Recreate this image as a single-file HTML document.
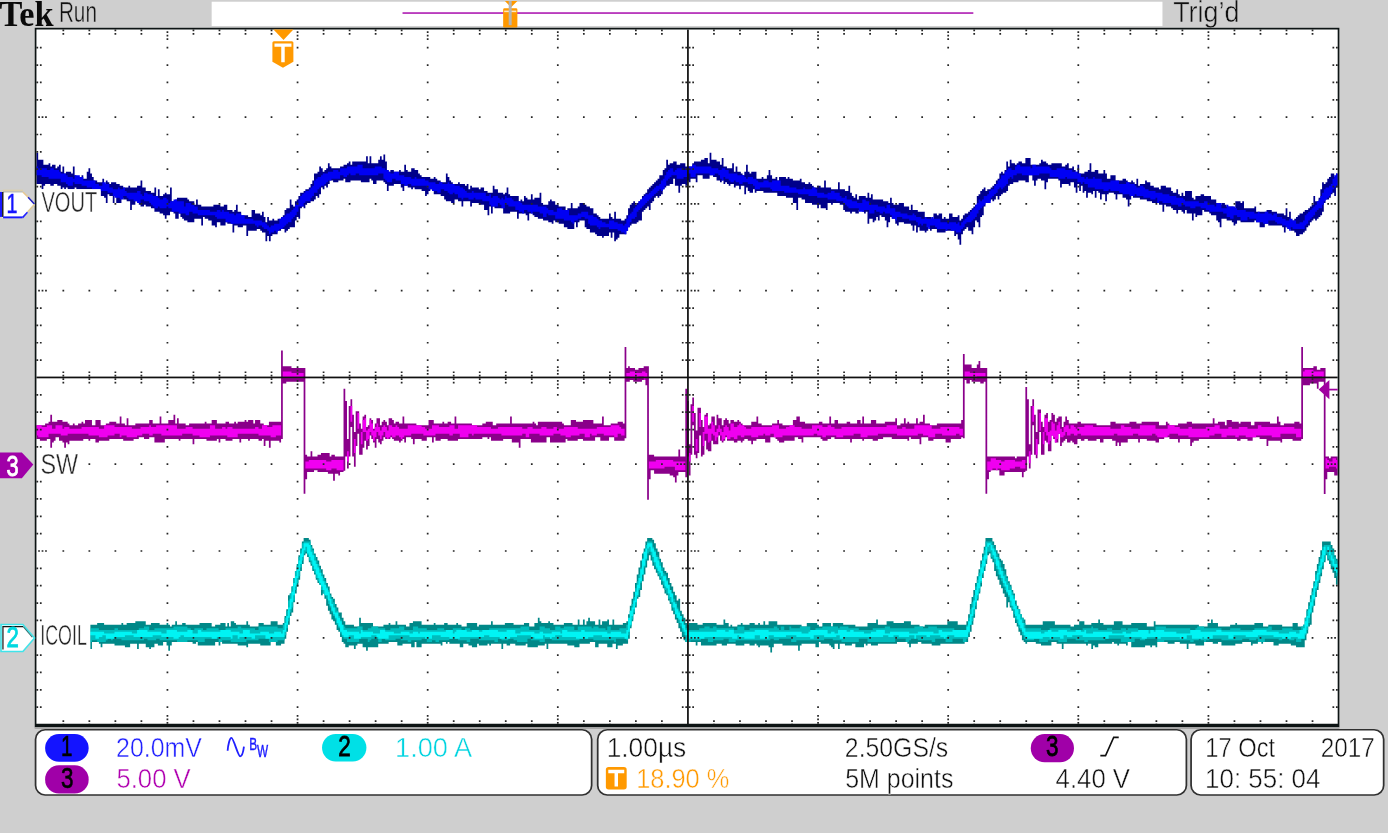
<!DOCTYPE html>
<html><head><meta charset="utf-8"><title>Tek scope capture</title><style>html,body{margin:0;padding:0;background:#cfcfcf;overflow:hidden;width:1388px;height:833px}svg{display:block}</style></head><body>
<svg width="1388" height="833" viewBox="0 0 800 480" preserveAspectRatio="none" font-family="'Liberation Sans', Arial, sans-serif">
<rect x="0" y="0" width="800" height="480" fill="#cfcfcf"/>
<rect x="122" y="1" width="548" height="14" fill="#ffffff"/>
<rect x="232" y="7" width="329" height="1.05" fill="#b838bc"/>
<path d="M291 0.6H298.2L294.6 4.2Z" fill="#ff9900"/>
<rect x="290" y="4.8" width="8.2" height="11.2" rx="0.8" fill="#ff9900"/>
<rect x="290.6" y="6.1" width="7" height="0.9" fill="#ffe8c0"/>
<rect x="293.2" y="0.6" width="1.7" height="13.9" fill="#b4b4b4"/>
<text x="-0.31" y="14.75" font-family="'Liberation Serif', 'Times New Roman', serif" font-weight="bold" font-size="20.9" textLength="31.14" lengthAdjust="spacingAndGlyphs" fill="#0a0a0a">Tek</text>
<text x="33.94" y="12.9" font-size="16.7" textLength="21.95" lengthAdjust="spacingAndGlyphs" fill="#101010" stroke="#cfcfcf" stroke-width="0.28">Run</text>
<text x="676.18" y="12.9" font-size="16.7" textLength="38.23" lengthAdjust="spacingAndGlyphs" fill="#101010" stroke="#cfcfcf" stroke-width="0.28">Trig’d</text>
<rect x="20" y="16" width="752" height="403" fill="#ffffff"/>
<path fill="#8a008a" d="M21 245H22V245H23V245H24V245H25V245H26V244H27V244H28V243H29V239H30V243H31V243H32V243H33V242H34V242H35V242H36V243H37V243H38V243H39V244H40V245H41V245H42V244H43V245H44V245H45V244H46V244H47V243H48V244H49V242H50V242H51V242H52V242H53V245H54V245H55V242H56V242H57V242H58V245H59V245H60V245H61V244H62V244H63V243H64V243H65V243H66V243H67V244H68V244H69V240H70V244H71V244H72V245H73V241H74V245H75V245H76V245H77V245H78V244H79V244H80V244H81V244H82V244H83V244H84V244H85V244H86V242H87V242H88V244H89V244H90V244H91V244H92V240H93V244H94V244H95V244H96V244H97V242H98V242H99V242H100V239H101V244H102V241H103V244H104V244H105V244H106V244H107V245H108V245H109V244H110V244H111V244H112V244H113V244H114V244H115V244H116V244H117V244H118V243H119V244H120V244H121V244H122V242H123V242H124V242H125V244H126V244H127V244H128V244H129V244H130V243H131V243H132V244H133V244H134V244H135V243H136V244H137V243H138V243H139V243H140V243H141V242H142V243H143V242H144V242H145V242H146V244H147V242H148V242H149V242H150V244H151V244H152V245H153V245H154V245H155V243H156V243H157V243H158V243H159V243H160V243H161V243H162V202H163V211H164V211H165V211H166V211H167V211H168V212H169V212H170V212H171V212H172V212H173V212H174V212H175V212H176V262H177V263H178V263H179V260H180V263H181V263H182V263H183V262H184V262H185V261H186V261H187V261H188V261H189V261H190V263H191V262H192V262H193V263H194V263H195V263H196V263H197V263H198V224H199V231H200V253H201V234H202V230H203V239H204V249H205V237H206V237H207V244H208V247H209V240H210V239H211V246H212V245H213V241H214V242H215V247H216V244H217V241H218V241H219V245H220V243H221V242H222V243H223V245H224V241H225V241H226V242H227V244H228V243H229V243H230V244H231V244H232V240H233V244H234V244H235V244H236V244H237V244H238V244H239V244H240V245H241V245H242V245H243V245H244V245H245V245H246V245H247V242H248V242H249V242H250V244H251V244H252V244H253V244H254V244H255V243H256V244H257V244H258V243H259V243H260V244H261V244H262V240H263V244H264V244H265V244H266V244H267V244H268V244H269V244H270V244H271V244H272V245H273V245H274V245H275V245H276V245H277V245H278V244H279V244H280V243H281V243H282V243H283V243H284V245H285V245H286V244H287V244H288V244H289V244H290V244H291V244H292V244H293V244H294V240H295V244H296V244H297V244H298V244H299V244H300V244H301V244H302V244H303V244H304V244H305V244H306V244H307V243H308V244H309V245H310V243H311V243H312V243H313V243H314V243H315V243H316V243H317V243H318V243H319V243H320V243H321V243H322V243H323V243H324V244H325V245H326V245H327V245H328V245H329V242H330V242H331V242H332V243H333V243H334V243H335V243H336V242H337V242H338V242H339V242H340V242H341V242H342V244H343V244H344V244H345V244H346V244H347V240H348V245H349V245H350V245H351V245H352V244H353V244H354V244H355V244H356V243H357V243H358V243H359V244H360V200H361V212H362V211H363V212H364V212H365V212H366V213H367V213H368V212H369V212H370V212H371V211H372V211H373V211H374V262H375V262H376V262H377V263H378V263H379V263H380V263H381V263H382V263H383V263H384V263H385V263H386V263H387V263H388V263H389V263H390V263H391V259H392V263H393V263H394V263H395V224H396V231H397V256H398V233H399V229H400V238H401V248H402V235H403V235H404V242H405V246H406V239H407V238H408V245H409V244H410V240H411V240H412V245H413V239H414V241H415V241H416V245H417V242H418V241H419V242H420V244H421V242H422V242H423V243H424V243H425V242H426V243H427V244H428V245H429V245H430V245H431V245H432V245H433V243H434V243H435V243H436V240H437V244H438V244H439V245H440V245H441V245H442V245H443V245H444V245H445V244H446V244H447V244H448V242H449V244H450V244H451V245H452V245H453V245H454V245H455V245H456V245H457V242H458V242H459V240H460V240H461V243H462V243H463V243H464V244H465V244H466V244H467V244H468V244H469V244H470V244H471V244H472V243H473V243H474V244H475V244H476V244H477V244H478V240H479V244H480V244H481V242H482V242H483V244H484V244H485V244H486V244H487V244H488V243H489V243H490V244H491V244H492V244H493V244H494V242H495V242H496V244H497V240H498V244H499V244H500V244H501V244H502V242H503V242H504V242H505V244H506V244H507V244H508V244H509V244H510V243H511V243H512V243H513V243H514V243H515V243H516V241H517V245H518V245H519V244H520V244H521V241H522V244H523V243H524V244H525V244H526V244H527V244H528V241H529V244H530V243H531V243H532V239H533V244H534V244H535V244H536V245H537V245H538V245H539V245H540V244H541V244H542V244H543V244H544V244H545V244H546V244H547V244H548V244H549V244H550V244H551V244H552V244H553V244H554V242H555V204H556V210H557V210H558V210H559V210H560V212H561V212H562V212H563V210H564V208H565V212H566V212H567V212H568V212H569V263H570V263H571V263H572V263H573V263H574V263H575V263H576V263H577V263H578V263H579V263H580V263H581V263H582V263H583V263H584V263H585V264H586V263H587V263H588V263H589V263H590V263H591V223H592V230H593V256H594V234H595V230H596V239H597V249H598V236H599V236H600V243H601V246H602V239H603V238H604V243H605V242H606V238H607V239H608V243H609V241H610V240H611V240H612V246H613V243H614V240H615V242H616V244H617V244H618V244H619V244H620V244H621V243H622V243H623V244H624V244H625V244H626V244H627V244H628V244H629V244H630V244H631V244H632V245H633V245H634V245H635V245H636V245H637V245H638V245H639V245H640V243H641V243H642V243H643V244H644V244H645V244H646V244H647V244H648V244H649V244H650V244H651V243H652V243H653V243H654V243H655V244H656V244H657V244H658V243H659V243H660V243H661V243H662V243H663V243H664V243H665V243H666V243H667V243H668V245H669V245H670V245H671V245H672V243H673V244H674V245H675V245H676V245H677V245H678V245H679V244H680V244H681V244H682V244H683V244H684V243H685V243H686V243H687V244H688V244H689V244H690V244H691V244H692V244H693V244H694V244H695V244H696V244H697V244H698V244H699V241H700V244H701V244H702V243H703V243H704V243H705V243H706V245H707V242H708V242H709V242H710V243H711V243H712V243H713V243H714V244H715V243H716V243H717V243H718V243H719V243H720V243H721V245H722V245H723V243H724V243H725V243H726V243H727V243H728V243H729V243H730V243H731V243H732V244H733V244H734V244H735V244H736V240H737V243H738V245H739V245H740V244H741V244H742V244H743V244H744V244H745V244H746V243H747V243H748V243H749V244H750V200H751V212H752V212H753V212H754V212H755V212H756V212H757V211H758V211H759V213H760V213H761V212H762V212H763V212H764V263H765V263H766V264H767V263H768V263H769V263H770V263H771V274H770V274H769V272H768V272H767V272H766V272H765V276.2H764V284.7H763V220H762V220H761V220H760V224H759V221H758V221H757V221H756V221H755V222H754V222H753V222H752V222H751V253H750V254H749V254H748V254H747V254H746V254H745V253H744V253H743V253H742V253H741V253H740V253H739V255H738V254H737V254H736V254H735V254H734V254H733V254H732V254H731V257H730V253H729V253H728V253H727V253H726V252H725V252H724V252H723V252H722V254H721V254H720V254H719V253H718V253H717V253H716V253H715V254H714V254H713V253H712V253H711V253H710V253H709V253H708V253H707V253H706V253H705V253H704V253H703V253H702V253H701V253H700V253H699V253H698V253H697V253H696V253H695V253H694V253H693V253H692V253H691V254H690V254H689V254H688V255H687V257H686V253H685V253H684V253H683V253H682V253H681V253H680V255H679V253H678V253H677V253H676V253H675V253H674V252H673V252H672V252H671V253H670V253H669V253H668V255H667V255H666V254H665V254H664V254H663V254H662V254H661V253H660V253H659V253H658V253H657V255H656V253H655V253H654V253H653V253H652V253H651V253H650V255H649V255H648V255H647V255H646V257H645V255H644V257H643V254H642V254H641V253H640V253H639V253H638V253H637V253H636V255H635V255H634V253H633V253H632V254H631V254H630V254H629V254H628V254H627V253H626V253H625V254H624V254H623V253H622V253H621V256H620V256H619V255H618V254H617V255H616V255H615V253H614V254H613V255H612V257H611V250H610V255H609V255H608V253H607V251H606V260H605V260H604V255H603V254H602V262H601V262H600V249H599V256H598V264H597V262H596V245H595V262H594V270H593V263H592V271.2H591V272H590V275H589V272H588V272H587V272H586V272H585V272H584V272H583V272H582V272H581V272H580V272H579V274H578V274H577V274H576V271H575V271H574V271H573V271H572V271H571V272H570V276.2H569V284.5H568V220H567V221H566V221H565V220H564V220H563V220H562V220H561V220H560V219H559V221H558V221H557V219H556V252.6H555V252H554V253H553V253H552V253H551V253H550V253H549V253H548V255H547V255H546V255H545V253H544V253H543V253H542V253H541V253H540V253H539V253H538V254H537V254H536V254H535V252H534V252H533V252H532V252H531V256H530V253H529V253H528V253H527V253H526V253H525V252H524V254H523V253H522V253H521V253H520V253H519V253H518V253H517V253H516V253H515V253H514V252H513V252H512V252H511V252H510V252H509V253H508V253H507V253H506V254H505V254H504V254H503V253H502V253H501V253H500V253H499V253H498V254H497V253H496V253H495V253H494V253H493V253H492V253H491V255H490V253H489V253H488V253H487V253H486V253H485V253H484V253H483V253H482V253H481V252H480V252H479V253H478V253H477V254H476V254H475V254H474V253H473V252H472V252H471V252H470V252H469V252H468V252H467V252H466V252H465V252H464V252H463V255H462V253H461V253H460V252H459V252H458V254H457V254H456V254H455V254H454V254H453V254H452V255H451V255H450V255H449V254H448V253H447V252H446V252H445V252H444V255H443V255H442V255H441V253H440V253H439V253H438V253H437V253H436V254H435V254H434V256H433V254H432V254H431V253H430V253H429V254H428V255H427V254H426V254H425V255H424V255H423V254H422V254H421V254H420V254H419V252H418V254H417V255H416V254H415V251H414V256H413V256H412V256H411V254H410V260H409V260H408V259H407V254H406V262H405V263H404V251H403V261H402V264H401V262H400V245H399V262H398V274H397V263H396V275H395V272H394V272H393V272H392V272H391V274H390V278H389V275H388V274H387V274H386V273H385V273H384V273H383V273H382V273H381V273H380V273H379V273H378V273H377V271H376V271H375V276.2H374V288H373V222H372V219H371V219H370V220H369V220H368V220H367V220H366V220H365V219H364V219H363V220H362V220H361V252.6H360V254H359V254H358V254H357V254H356V254H355V254H354V252H353V252H352V252H351V254H350V254H349V254H348V254H347V254H346V252H345V252H344V252H343V254H342V254H341V254H340V254H339V254H338V254H337V254H336V253H335V253H334V253H333V254H332V254H331V254H330V254H329V254H328V254H327V253H326V255H325V255H324V255H323V255H322V255H321V255H320V255H319V255H318V255H317V252H316V252H315V255H314V255H313V255H312V255H311V255H310V255H309V255H308V255H307V255H306V253H305V253H304V253H303V253H302V253H301V253H300V258H299V255H298V255H297V255H296V255H295V253H294V253H293V253H292V253H291V253H290V254H289V254H288V254H287V254H286V254H285V254H284V254H283V252H282V253H281V252H280V252H279V252H278V253H277V253H276V253H275V253H274V253H273V253H272V253H271V253H270V253H269V253H268V253H267V253H266V253H265V253H264V254H263V254H262V254H261V254H260V254H259V254H258V253H257V253H256V253H255V253H254V254H253V254H252V254H251V252H250V255H249V252H248V252H247V252H246V254H245V254H244V254H243V253H242V253H241V253H240V253H239V256H238V253H237V252H236V252H235V252H234V255H233V253H232V254H231V255H230V254H229V254H228V254H227V253H226V252H225V253H224V253H223V253H222V252H221V254H220V256H219V255H218V253H217V258H216V255H215V253H214V251H213V257H212V259H211V254H210V258H209V262H208V262H207V250H206V257H205V269H204V263H203V246H202V263H201V270H200V263H199V271.2H198V272H197V272H196V274H195V273H194V273H193V277H192V273H191V273H190V273H189V272H188V272H187V272H186V272H185V272H184V272H183V271H182V271H181V272H180V272H179V272H178V272H177V276.2H176V284.5H175V220H174V220H173V220H172V220H171V220H170V220H169V220H168V220H167V220H166V220H165V221H164V221H163V253H162V255H161V254H160V254H159V254H158V254H157V254H156V258H155V254H154V254H153V257H152V253H151V254H150V254H149V253H148V253H147V253H146V253H145V253H144V254H143V253H142V253H141V253H140V253H139V255H138V253H137V253H136V253H135V253H134V254H133V254H132V254H131V254H130V253H129V253H128V253H127V255H126V253H125V254H124V254H123V254H122V254H121V254H120V254H119V253H118V253H117V253H116V253H115V253H114V253H113V253H112V256H111V253H110V253H109V253H108V253H107V253H106V253H105V253H104V254H103V253H102V253H101V253H100V253H99V253H98V253H97V253H96V253H95V255H94V255H93V255H92V255H91V255H90V255H89V252H88V252H87V252H86V253H85V253H84V253H83V252H82V252H81V252H80V253H79V253H78V253H77V254H76V254H75V254H74V254H73V254H72V254H71V253H70V253H69V253H68V253H67V253H66V253H65V253H64V253H63V254H62V254H61V254H60V254H59V254H58V254H57V255H56V255H55V253H54V253H53V253H52V254H51V253H50V253H49V253H48V254H47V254H46V254H45V254H44V254H43V254H42V254H41V254H40V256H39V255H38V258H37V255H36V254H35V254H34V252H33V252H32V254H31V255H30V258H29V253H28V253H27V254H26V254H25V254H24V254H23V253H22V253H21z"/>
<path fill="#f000f0" d="M21 245H22V245H23V245H24V246H25V246H26V246H27V245H28V245H29V245H30V247H31V247H32V245H33V245H34V245H35V245H36V247H37V246H38V246H39V246H40V247H41V247H42V247H43V247H44V247H45V247H46V247H47V246H48V246H49V246H50V246H51V246H52V246H53V246H54V246H55V246H56V246H57V247H58V247H59V247H60V245H61V245H62V245H63V245H64V245H65V245H66V246H67V246H68V246H69V246H70V246H71V246H72V246H73V246H74V246H75V246H76V247H77V247H78V247H79V247H80V247H81V246H82V246H83V246H84V246H85V246H86V245H87V246H88V246H89V246H90V245H91V245H92V245H93V245H94V245H95V245H96V245H97V245H98V245H99V245H100V245H101V245H102V247H103V247H104V247H105V247H106V247H107V246H108V246H109V246H110V246H111V247H112V247H113V247H114V247H115V247H116V247H117V247H118V247H119V247H120V247H121V245H122V245H123V245H124V247H125V247H126V247H127V247H128V246H129V246H130V247H131V246H132V246H133V246H134V247H135V247H136V247H137V247H138V247H139V247H140V247H141V247H142V247H143V247H144V247H145V247H146V247H147V246H148V246H149V247H150V247H151V245H152V245H153V245H154V246H155V246H156V246H157V245H158V245H159V245H160V245H161V245H162V251H161V251H160V251H159V252H158V252H157V252H156V251H155V251H154V251H153V251H152V251H151V251H150V251H149V250H148V250H147V250H146V250H145V250H144V250H143V250H142V250H141V250H140V250H139V250H138V250H137V252H136V252H135V252H134V252H133V252H132V252H131V251H130V251H129V251H128V251H127V251H126V251H125V251H124V251H123V251H122V251H121V252H120V252H119V252H118V252H117V252H116V252H115V251H114V251H113V251H112V251H111V250H110V250H109V250H108V250H107V250H106V250H105V251H104V251H103V251H102V251H101V251H100V251H99V251H98V251H97V251H96V251H95V251H94V251H93V250H92V250H91V250H90V250H89V250H88V251H87V251H86V250H85V250H84V250H83V250H82V251H81V251H80V251H79V252H78V252H77V252H76V252H75V252H74V252H73V251H72V251H71V251H70V252H69V250H68V250H67V250H66V251H65V251H64V251H63V251H62V252H61V252H60V252H59V252H58V252H57V251H56V251H55V251H54V251H53V251H52V251H51V250H50V250H49V250H48V250H47V250H46V250H45V250H44V250H43V250H42V250H41V250H40V250H39V251H38V251H37V251H36V251H35V250H34V250H33V250H32V250H31V250H30V250H29V250H28V252H27V252H26V252H25V252H24V252H23V252H22V251H21zM163 214H164V214H165V214H166V214H167V214H168V215H169V215H170V215H171V215H172V215H173V215H174V215H175V218H174V218H173V218H172V218H171V218H170V218H169V218H168V218H167V218H166V218H165V218H164V218H163zM176 266H177V266H178V265H179V265H180V265H181V265H182V265H183V265H184V265H185V265H186V265H187V265H188V266H189V266H190V266H191V265H192V265H193V265H194V265H195V265H196V265H197V265H198V271H197V271H196V271H195V271H194V270H193V270H192V270H191V271H190V271H189V271H188V270H187V270H186V270H185V270H184V270H183V270H182V270H181V270H180V270H179V270H178V270H177V270H176zM200 260H201V266H200zM202 234H203V243H202zM204 253H205V261H204zM206 238H207V247H206zM208 249H209V242H210V241H211V248H212V247H213V242H214V244H215V248H216V246H217V244H218V246H219V248H220V246H221V245H222V246H223V248H224V245H225V245H226V246H227V246H228V245H229V246H230V247H231V247H232V247H233V247H234V247H235V245H236V245H237V245H238V245H239V245H240V245H241V245H242V245H243V246H244V246H245V247H246V247H247V247H248V247H249V245H250V245H251V245H252V245H253V246H254V246H255V246H256V246H257V246H258V246H259V245H260V245H261V245H262V247H263V247H264V245H265V245H266V245H267V245H268V245H269V245H270V245H271V245H272V245H273V245H274V245H275V246H276V246H277V246H278V246H279V246H280V246H281V246H282V246H283V247H284V247H285V247H286V247H287V246H288V246H289V246H290V246H291V246H292V246H293V246H294V246H295V246H296V246H297V246H298V246H299V246H300V246H301V247H302V247H303V247H304V246H305V246H306V246H307V247H308V247H309V247H310V247H311V247H312V246H313V246H314V246H315V247H316V247H317V247H318V247H319V246H320V246H321V247H322V247H323V247H324V247H325V246H326V246H327V246H328V246H329V246H330V246H331V246H332V246H333V247H334V247H335V247H336V247H337V247H338V247H339V247H340V247H341V247H342V247H343V247H344V246H345V246H346V246H347V246H348V246H349V246H350V246H351V246H352V245H353V245H354V245H355V245H356V245H357V246H358V247H359V247H360V251H359V251H358V250H357V250H356V252H355V252H354V251H353V251H352V251H351V251H350V251H349V251H348V250H347V250H346V250H345V250H344V251H343V251H342V251H341V250H340V252H339V252H338V252H337V250H336V250H335V250H334V251H333V251H332V251H331V251H330V251H329V252H328V252H327V252H326V251H325V251H324V251H323V250H322V250H321V250H320V250H319V251H318V251H317V251H316V251H315V251H314V251H313V251H312V251H311V250H310V250H309V250H308V250H307V250H306V250H305V252H304V252H303V250H302V250H301V251H300V251H299V251H298V251H297V251H296V251H295V251H294V251H293V251H292V251H291V251H290V251H289V250H288V250H287V250H286V250H285V250H284V250H283V250H282V250H281V250H280V250H279V250H278V250H277V250H276V250H275V250H274V250H273V251H272V250H271V250H270V252H269V252H268V252H267V252H266V252H265V250H264V250H263V250H262V250H261V251H260V251H259V250H258V250H257V250H256V250H255V250H254V250H253V250H252V250H251V251H250V251H249V251H248V251H247V251H246V251H245V251H244V250H243V250H242V250H241V250H240V250H239V250H238V250H237V251H236V251H235V251H234V251H233V252H232V253H231V252H230V251H229V251H228V252H227V252H226V251H225V252H224V253H223V252H222V249H221V251H220V253H219V251H218V249H217V252H216V254H215V251H214V249H213V253H212V254H211V249H210V249H209V256H208zM361 215H362V215H363V214H364V214H365V214H366V214H367V215H368V215H369V215H370V214H371V214H372V215H373V218H372V219H371V217H370V217H369V217H368V218H367V218H366V218H365V218H364V218H363V217H362V217H361zM374 266H375V266H376V266H377V266H378V265H379V265H380V265H381V265H382V265H383V265H384V265H385V265H386V265H387V265H388V266H389V266H390V266H391V266H392V266H393V266H394V266H395V271H394V271H393V271H392V271H391V271H390V271H389V269H388V269H387V269H386V269H385V269H384V269H383V270H382V270H381V270H380V270H379V270H378V270H377V270H376V270H375V270H374zM397 261H398V266H397zM399 234H400V243H399zM401 253H402V260H401zM403 238H404V246H403zM405 249H406V240H407V240H408V247H409V247H410V243H411V245H412V249H413V247H414V245H415V247H416V249H417V246H418V245H419V246H420V248H421V244H422V244H423V246H424V246H425V245H426V244H427V245H428V245H429V246H430V247H431V247H432V247H433V246H434V246H435V246H436V246H437V246H438V246H439V246H440V246H441V246H442V246H443V246H444V246H445V245H446V245H447V245H448V245H449V247H450V247H451V247H452V247H453V246H454V246H455V245H456V245H457V245H458V246H459V246H460V246H461V246H462V247H463V247H464V247H465V247H466V247H467V247H468V245H469V245H470V245H471V245H472V245H473V245H474V246H475V246H476V246H477V245H478V245H479V246H480V246H481V247H482V247H483V247H484V247H485V246H486V246H487V246H488V246H489V246H490V246H491V246H492V246H493V246H494V246H495V246H496V246H497V246H498V246H499V246H500V246H501V246H502V246H503V246H504V246H505V246H506V246H507V246H508V246H509V246H510V246H511V245H512V245H513V245H514V245H515V245H516V245H517V247H518V247H519V247H520V246H521V246H522V247H523V247H524V247H525V247H526V247H527V245H528V245H529V245H530V245H531V245H532V245H533V245H534V245H535V245H536V245H537V247H538V247H539V247H540V247H541V247H542V246H543V246H544V246H545V246H546V246H547V246H548V246H549V246H550V246H551V246H552V246H553V247H554V247H555V251H554V251H553V250H552V250H551V251H550V251H549V251H548V251H547V251H546V251H545V251H544V251H543V250H542V250H541V250H540V250H539V252H538V252H537V252H536V252H535V251H534V251H533V251H532V250H531V250H530V250H529V251H528V251H527V251H526V251H525V251H524V251H523V251H522V251H521V251H520V251H519V251H518V251H517V250H516V250H515V250H514V250H513V250H512V250H511V250H510V250H509V250H508V250H507V250H506V251H505V251H504V251H503V251H502V251H501V251H500V252H499V252H498V252H497V252H496V250H495V250H494V250H493V250H492V251H491V251H490V251H489V251H488V251H487V251H486V252H485V252H484V252H483V252H482V251H481V251H480V251H479V251H478V251H477V251H476V252H475V252H474V251H473V251H472V251H471V250H470V250H469V251H468V251H467V251H466V251H465V251H464V251H463V251H462V251H461V251H460V251H459V251H458V251H457V251H456V251H455V251H454V251H453V251H452V251H451V252H450V252H449V252H448V252H447V252H446V250H445V250H444V251H443V251H442V251H441V250H440V251H439V251H438V251H437V252H436V252H435V252H434V252H433V251H432V251H431V251H430V251H429V252H428V252H427V251H426V251H425V253H424V253H423V252H422V252H421V253H420V253H419V251H418V253H417V254H416V251H415V249H414V252H413V254H412V251H411V250H410V254H409V255H408V250H407V250H406V257H405zM556 214H557V214H558V214H559V215H560V215H561V215H562V215H563V215H564V215H565V215H566V215H567V215H568V217H567V217H566V217H565V217H564V217H563V218H562V218H561V218H560V218H559V218H558V218H557V218H556zM569 266H570V266H571V264H572V264H573V264H574V265H575V265H576V265H577V266H578V266H579V265H580V265H581V265H582V265H583V265H584V265H585V266H586V266H587V266H588V266H589V265H590V265H591V270H590V270H589V270H588V269H587V269H586V269H585V270H584V270H583V270H582V271H581V271H580V271H579V271H578V271H577V270H576V270H575V271H574V270H573V270H572V271H571V271H570V271H569zM593 260H594V267H593zM595 234H596V243H595zM597 253H598V262H597zM599 238H600V248H599zM601 249H602V241H603V241H604V249H605V248H606V243H607V244H608V248H609V245H610V243H611V247H612V249H613V246H614V245H615V245H616V247H617V245H618V245H619V246H620V247H621V246H622V246H623V246H624V246H625V245H626V245H627V245H628V245H629V245H630V246H631V246H632V246H633V246H634V246H635V246H636V246H637V246H638V246H639V246H640V247H641V247H642V247H643V247H644V247H645V247H646V245H647V245H648V246H649V246H650V246H651V246H652V247H653V247H654V247H655V247H656V247H657V245H658V245H659V245H660V245H661V245H662V245H663V245H664V245H665V245H666V247H667V247H668V247H669V247H670V247H671V247H672V247H673V245H674V245H675V245H676V245H677V246H678V246H679V246H680V247H681V247H682V247H683V247H684V247H685V246H686V246H687V247H688V247H689V247H690V247H691V247H692V247H693V247H694V247H695V246H696V246H697V246H698V246H699V246H700V245H701V245H702V245H703V247H704V247H705V247H706V247H707V247H708V246H709V246H710V247H711V247H712V247H713V247H714V246H715V246H716V246H717V246H718V246H719V247H720V247H721V247H722V247H723V247H724V247H725V245H726V245H727V246H728V246H729V246H730V246H731V246H732V246H733V246H734V246H735V246H736V246H737V246H738V246H739V246H740V246H741V246H742V246H743V246H744V246H745V246H746V247H747V247H748V247H749V247H750V252H749V252H748V252H747V250H746V250H745V250H744V250H743V250H742V250H741V250H740V250H739V250H738V252H737V252H736V252H735V252H734V252H733V251H732V251H731V251H730V251H729V251H728V251H727V251H726V251H725V251H724V252H723V252H722V252H721V252H720V252H719V252H718V251H717V251H716V251H715V251H714V252H713V252H712V251H711V251H710V251H709V251H708V251H707V252H706V252H705V252H704V250H703V250H702V250H701V250H700V251H699V251H698V251H697V252H696V252H695V252H694V252H693V252H692V252H691V252H690V252H689V252H688V252H687V252H686V252H685V251H684V251H683V251H682V251H681V251H680V251H679V250H678V250H677V250H676V250H675V250H674V251H673V252H672V252H671V252H670V252H669V252H668V252H667V251H666V250H665V250H664V251H663V251H662V251H661V251H660V251H659V251H658V251H657V251H656V250H655V250H654V250H653V251H652V251H651V251H650V251H649V251H648V251H647V251H646V251H645V251H644V250H643V250H642V251H641V251H640V251H639V251H638V251H637V251H636V251H635V251H634V251H633V251H632V251H631V251H630V251H629V251H628V251H627V251H626V251H625V251H624V251H623V250H622V250H621V251H620V251H619V250H618V250H617V251H616V251H615V249H614V251H613V252H612V252H611V250H610V253H609V255H608V252H607V251H606V254H605V256H604V251H603V249H602V256H601zM751 214H752V213H753V213H754V213H755V213H756V213H757V214H758V214H759V214H760V214H761V214H762V214H763V218H762V217H761V217H760V217H759V217H758V217H757V218H756V218H755V218H754V218H753V218H752V218H751zM764 264H765V265H766V266H767V266H768V264H769V264H770V265H771V270H770V269H769V269H768V269H767V269H766V270H765V270H764z"/>
<path fill="#008888" d="M52 360H53V360H54V360H55V360H56V359H57V359H58V359H59V359H60V360H61V360H62V360H63V360H64V360H65V360H66V360H67V360H68V360H69V360H70V359H71V360H72V360H73V359H74V359H75V359H76V359H77V359H78V358H79V358H80V358H81V358H82V358H83V358H84V360H85V360H86V360H87V359H88V359H89V359H90V359H91V359H92V360H93V360H94V360H95V360H96V359H97V360H98V361H99V360H100V360H101V358H102V360H103V360H104V360H105V359H106V359H107V360H108V360H109V360H110V360H111V360H112V360H113V360H114V360H115V359H116V359H117V359H118V359H119V359H120V359H121V359H122V361H123V361H124V360H125V360H126V360H127V359H128V359H129V359H130V361H131V359H132V361H133V358H134V358H135V359H136V360H137V360H138V360H139V360H140V360H141V360H142V358H143V360H144V361H145V361H146V361H147V361H148V361H149V359H150V359H151V359H152V360H153V360H154V360H155V360H156V358H157V358H158V358H159V358H160V360H161V360H162V360H163V359H164V355H165V351H166V343H167V342H168V338H169V333H170V329H171V325H172V320H173V316H174V312H175V310H176V310H177V310H178V311H179V314H180V316H181V319H182V321H183V323H184V326H185V328H186V331H187V333H188V336H189V338H190V342H191V344H192V345H193V348H194V350H195V353H196V353H197V356H198V358H199V360H200V360H201V360H202V360H203V360H204V361H205V361H206V361H207V356H208V359H209V359H210V359H211V359H212V359H213V359H214V359H215V361H216V361H217V361H218V361H219V361H220V361H221V360H222V360H223V360H224V359H225V360H226V360H227V360H228V358H229V360H230V360H231V360H232V360H233V360H234V361H235V361H236V359H237V359H238V358H239V358H240V358H241V358H242V358H243V360H244V360H245V360H246V360H247V360H248V360H249V360H250V359H251V360H252V360H253V360H254V360H255V360H256V359H257V359H258V360H259V360H260V360H261V360H262V360H263V359H264V360H265V360H266V361H267V361H268V361H269V359H270V359H271V359H272V359H273V359H274V359H275V361H276V360H277V360H278V360H279V360H280V360H281V360H282V360H283V358H284V360H285V360H286V360H287V360H288V360H289V360H290V360H291V359H292V359H293V359H294V359H295V359H296V360H297V360H298V360H299V360H300V360H301V360H302V359H303V359H304V359H305V361H306V361H307V361H308V359H309V359H310V356H311V358H312V359H313V359H314V359H315V359H316V358H317V359H318V359H319V360H320V360H321V360H322V360H323V360H324V360H325V359H326V359H327V359H328V359H329V359H330V360H331V360H332V360H333V357H334V360H335V360H336V357H337V360H338V358H339V356H340V358H341V358H342V358H343V360H344V360H345V357H346V360H347V358H348V358H349V358H350V357H351V360H352V360H353V357H354V360H355V360H356V360H357V360H358V360H359V359H360V359H361V358H362V354H363V349H364V345H365V341H366V336H367V331H368V327H369V323H370V319H371V316H372V312H373V310H374V310H375V310H376V311H377V313H378V316H379V318H380V322H381V324H382V327H383V329H384V330H385V333H386V336H387V338H388V341H389V343H390V346H391V345H392V352H393V354H394V356H395V359H396V360H397V359H398V359H399V359H400V359H401V359H402V360H403V360H404V360H405V359H406V359H407V359H408V359H409V359H410V359H411V359H412V359H413V360H414V360H415V360H416V360H417V357H418V359H419V359H420V361H421V360H422V361H423V361H424V361H425V360H426V360H427V359H428V360H429V360H430V360H431V360H432V359H433V359H434V359H435V360H436V360H437V359H438V360H439V360H440V358H441V360H442V360H443V358H444V358H445V358H446V358H447V358H448V360H449V360H450V360H451V360H452V360H453V360H454V360H455V360H456V360H457V360H458V360H459V360H460V360H461V360H462V361H463V361H464V361H465V359H466V359H467V359H468V359H469V359H470V359H471V360H472V361H473V361H474V359H475V359H476V359H477V359H478V359H479V361H480V359H481V359H482V359H483V359H484V359H485V359H486V360H487V360H488V360H489V360H490V360H491V360H492V360H493V361H494V361H495V361H496V361H497V361H498V361H499V361H500V359H501V359H502V359H503V359H504V359H505V357H506V360H507V360H508V360H509V360H510V360H511V358H512V358H513V358H514V358H515V359H516V359H517V359H518V359H519V359H520V359H521V358H522V358H523V358H524V358H525V360H526V360H527V360H528V360H529V360H530V361H531V361H532V361H533V360H534V360H535V360H536V360H537V360H538V360H539V360H540V360H541V360H542V360H543V360H544V360H545V360H546V358H547V358H548V358H549V358H550V358H551V358H552V360H553V360H554V360H555V360H556V360H557V358H558V354H559V348H560V344H561V340H562V336H563V332H564V328H565V323H566V319H567V315H568V310H569V310H570V310H571V310H572V312H573V314H574V317H575V319H576V322H577V323H578V325H579V328H580V332H581V335H582V337H583V340H584V342H585V346H586V349H587V351H588V354H589V356H590V357H591V360H592V360H593V360H594V360H595V360H596V360H597V360H598V360H599V360H600V360H601V358H602V358H603V358H604V358H605V358H606V358H607V358H608V360H609V360H610V360H611V360H612V360H613V360H614V360H615V360H616V360H617V361H618V361H619V360H620V360H621V360H622V358H623V358H624V358H625V360H626V360H627V360H628V360H629V359H630V359H631V359H632V359H633V357H634V359H635V359H636V360H637V360H638V360H639V360H640V360H641V360H642V358H643V358H644V358H645V358H646V358H647V360H648V360H649V360H650V360H651V360H652V359H653V359H654V359H655V359H656V359H657V359H658V359H659V359H660V359H661V361H662V361H663V361H664V361H665V358H666V360H667V360H668V360H669V360H670V360H671V360H672V360H673V360H674V360H675V360H676V360H677V360H678V360H679V360H680V360H681V360H682V360H683V360H684V360H685V360H686V360H687V360H688V360H689V360H690V360H691V361H692V361H693V361H694V361H695V361H696V359H697V359H698V357H699V359H700V359H701V359H702V361H703V361H704V361H705V361H706V361H707V361H708V361H709V360H710V360H711V360H712V359H713V360H714V360H715V360H716V360H717V360H718V360H719V360H720V360H721V360H722V360H723V359H724V359H725V359H726V359H727V359H728V361H729V361H730V361H731V360H732V360H733V360H734V360H735V360H736V360H737V360H738V360H739V361H740V361H741V361H742V361H743V361H744V361H745V359H746V359H747V359H748V361H749V361H750V361H751V360H752V356H753V351H754V347H755V343H756V339H757V335H758V329H759V325H760V321H761V317H762V312H763V312H764V312H765V312H766V312H767V314H768V316H769V320H770V322H771V337H770V333H769V330H768V328H767V325H766V323H765V320H764V324H763V328H762V332H761V336H760V340H759V344H758V349H757V353H756V360H755V361H754V365H753V369H752V373H751V373H750V373H749V373H748V373H747V372H746V372H745V372H744V371H743V371H742V371H741V371H740V371H739V371H738V371H737V372H736V372H735V372H734V370H733V370H732V370H731V370H730V370H729V370H728V371H727V370H726V370H725V371H724V371H723V371H722V372H721V370H720V370H719V370H718V370H717V370H716V371H715V371H714V371H713V371H712V372H711V372H710V372H709V372H708V372H707V372H706V372H705V372H704V370H703V370H702V371H701V371H700V371H699V370H698V370H697V370H696V370H695V370H694V372H693V372H692V372H691V372H690V372H689V371H688V371H687V371H686V371H685V374H684V371H683V371H682V371H681V371H680V370H679V370H678V370H677V371H676V371H675V371H674V371H673V370H672V370H671V370H670V370H669V370H668V370H667V373H666V372H665V372H664V373H663V372H662V372H661V372H660V373H659V373H658V373H657V373H656V373H655V373H654V373H653V373H652V370H651V370H650V372H649V371H648V371H647V371H646V371H645V372H644V371H643V371H642V370H641V371H640V371H639V371H638V371H637V371H636V371H635V371H634V371H633V373H632V373H631V372H630V374H629V371H628V371H627V372H626V371H625V371H624V371H623V371H622V371H621V371H620V371H619V371H618V371H617V371H616V371H615V371H614V371H613V374H612V371H611V371H610V371H609V370H608V370H607V370H606V372H605V372H604V372H603V372H602V372H601V372H600V371H599V371H598V371H597V370H596V370H595V370H594V370H593V370H592V371H591V370H590V369H589V366H588V364H587V361H586V359H585V356H584V352H583V350H582V347H581V350H580V344H579V342H578V339H577V337H576V334H575V332H574V329H573V324H572V322H571V319H570V320H569V325H568V329H567V333H566V338H565V342H564V346H563V351H562V356H561V360H560V364H559V367H558V370H557V370H556V371H555V371H554V371H553V371H552V371H551V371H550V371H549V371H548V371H547V371H546V371H545V371H544V371H543V371H542V372H541V372H540V372H539V372H538V372H537V371H536V371H535V371H534V371H533V371H532V371H531V370H530V370H529V371H528V371H527V371H526V371H525V373H524V371H523V370H522V370H521V370H520V370H519V370H518V370H517V371H516V371H515V371H514V371H513V371H512V371H511V371H510V371H509V371H508V371H507V371H506V372H505V372H504V372H503V372H502V371H501V371H500V372H499V371H498V373H497V373H496V373H495V373H494V373H493V371H492V371H491V372H490V372H489V372H488V372H487V371H486V371H485V371H484V374H483V371H482V371H481V374H480V373H479V372H478V371H477V371H476V371H475V371H474V371H473V370H472V373H471V373H470V371H469V371H468V371H467V371H466V371H465V371H464V371H463V371H462V372H461V375H460V372H459V372H458V372H457V372H456V372H455V372H454V372H453V372H452V372H451V371H450V371H449V371H448V371H447V371H446V373H445V376H444V373H443V372H442V372H441V372H440V372H439V372H438V373H437V372H436V371H435V372H434V372H433V372H432V371H431V371H430V371H429V372H428V372H427V372H426V372H425V372H424V371H423V371H422V371H421V371H420V371H419V372H418V372H417V372H416V371H415V371H414V371H413V372H412V372H411V372H410V372H409V372H408V372H407V372H406V372H405V372H404V370H403V370H402V372H401V370H400V370H399V370H398V370H397V370H396V370H395V369H394V367H393V364H392V362H391V359H390V357H389V354H388V352H387V348H386V346H385V343H384V342H383V339H382V337H381V334H380V332H379V330H378V328H377V326H376V323H375V320H374V323H373V327H372V331H371V335H370V340H369V344H368V345H367V350H366V354H365V358H364V362H363V368H362V371H361V371H360V371H359V372H358V372H357V372H356V374H355V371H354V371H353V373H352V373H351V373H350V371H349V371H348V371H347V371H346V371H345V373H344V373H343V370H342V370H341V370H340V371H339V371H338V371H337V371H336V371H335V371H334V373H333V373H332V373H331V372H330V372H329V372H328V372H327V371H326V371H325V371H324V371H323V371H322V371H321V371H320V371H319V371H318V371H317V371H316V374H315V371H314V372H313V372H312V372H311V372H310V373H309V373H308V373H307V373H306V373H305V373H304V371H303V372H302V372H301V372H300V372H299V372H298V372H297V371H296V371H295V371H294V372H293V372H292V371H291V371H290V374H289V371H288V371H287V371H286V371H285V371H284V371H283V372H282V371H281V372H280V372H279V372H278V372H277V372H276V371H275V373H274V373H273V373H272V372H271V372H270V371H269V371H268V371H267V373H266V373H265V371H264V371H263V371H262V371H261V371H260V371H259V370H258V371H257V370H256V370H255V372H254V371H253V371H252V371H251V371H250V371H249V371H248V371H247V371H246V371H245V371H244V371H243V373H242V373H241V373H240V370H239V373H238V373H237V371H236V371H235V371H234V371H233V371H232V372H231V372H230V372H229V370H228V370H227V370H226V370H225V370H224V371H223V371H222V371H221V371H220V371H219V371H218V373H217V373H216V373H215V373H214V373H213V373H212V375H211V373H210V373H209V371H208V371H207V371H206V372H205V374H204V372H203V372H202V372H201V373H200V373H199V371H198V370H197V367H196V364H195V363H194V360H193V358H192V357H191V354H190V352H189V349H188V345H187V342H186V343H185V337H184V336H183V334H182V331H181V329H180V326H179V324H178V321H177V319H176V320H175V325H174V329H173V334H172V338H171V342H170V347H169V353H168V355H167V360H166V364H165V368H164V371H163V371H162V372H161V372H160V372H159V370H158V370H157V370H156V372H155V372H154V372H153V372H152V372H151V372H150V371H149V371H148V371H147V371H146V371H145V371H144V371H143V373H142V372H141V372H140V372H139V372H138V372H137V371H136V371H135V371H134V371H133V371H132V371H131V371H130V371H129V371H128V370H127V372H126V370H125V370H124V372H123V372H122V372H121V372H120V372H119V372H118V372H117V372H116V372H115V372H114V370H113V371H112V371H111V370H110V370H109V370H108V370H107V370H106V370H105V370H104V370H103V370H102V370H101V370H100V370H99V372H98V375H97V372H96V370H95V370H94V372H93V372H92V372H91V371H90V371H89V373H88V373H87V374H86V373H85V373H84V371H83V371H82V371H81V371H80V374H79V371H78V371H77V371H76V371H75V373H74V373H73V373H72V372H71V372H70V372H69V372H68V372H67V372H66V371H65V371H64V371H63V371H62V371H61V371H60V371H59V373H58V371H57V370H56V370H55V370H54V370H53V374H52z"/>
<path fill="#00bcbc" d="M52 362H53V362H54V362H55V362H56V362H57V363H58V363H59V363H60V363H61V363H62V363H63V363H64V363H65V363H66V362H67V362H68V363H69V363H70V363H71V363H72V363H73V363H74V363H75V363H76V363H77V363H78V363H79V363H80V362H81V362H82V362H83V361H84V361H85V361H86V363H87V363H88V363H89V362H90V362H91V362H92V362H93V362H94V362H95V362H96V362H97V362H98V362H99V362H100V361H101V361H102V361H103V361H104V361H105V361H106V361H107V361H108V362H109V362H110V363H111V363H112V362H113V362H114V362H115V362H116V362H117V363H118V363H119V362H120V362H121V362H122V362H123V362H124V362H125V362H126V363H127V363H128V363H129V363H130V362H131V362H132V362H133V362H134V362H135V362H136V362H137V361H138V361H139V362H140V362H141V362H142V362H143V362H144V362H145V362H146V362H147V363H148V363H149V361H150V361H151V361H152V361H153V361H154V361H155V361H156V361H157V361H158V361H159V361H160V362H161V362H162V362H163V360H164V356H165V352H166V346H167V342H168V338H169V333H170V329H171V326H172V321H173V317H174V313H175V312H176V312H177V312H178V312H179V315H180V317H181V320H182V323H183V325H184V328H185V330H186V333H187V335H188V338H189V340H190V343H191V345H192V347H193V350H194V352H195V355H196V357H197V360H198V361H199V362H200V362H201V362H202V362H203V362H204V362H205V362H206V361H207V361H208V361H209V363H210V363H211V363H212V362H213V362H214V361H215V361H216V361H217V361H218V362H219V362H220V362H221V362H222V363H223V363H224V363H225V362H226V362H227V362H228V362H229V362H230V361H231V361H232V361H233V363H234V363H235V363H236V363H237V363H238V361H239V361H240V361H241V362H242V362H243V362H244V362H245V362H246V363H247V363H248V363H249V363H250V363H251V363H252V362H253V362H254V362H255V362H256V363H257V363H258V363H259V363H260V363H261V362H262V362H263V362H264V362H265V362H266V363H267V363H268V362H269V362H270V362H271V363H272V363H273V363H274V363H275V363H276V363H277V363H278V363H279V363H280V363H281V363H282V362H283V362H284V362H285V362H286V362H287V362H288V362H289V362H290V362H291V362H292V362H293V362H294V362H295V362H296V362H297V362H298V362H299V362H300V361H301V361H302V361H303V361H304V361H305V363H306V363H307V363H308V363H309V363H310V363H311V361H312V361H313V361H314V362H315V362H316V362H317V363H318V363H319V363H320V361H321V361H322V361H323V362H324V362H325V361H326V361H327V361H328V361H329V361H330V361H331V363H332V363H333V361H334V361H335V361H336V361H337V361H338V361H339V361H340V361H341V362H342V361H343V361H344V361H345V362H346V362H347V362H348V362H349V363H350V361H351V361H352V363H353V363H354V363H355V363H356V363H357V362H358V362H359V362H360V362H361V360H362V357H363V352H364V348H365V344H366V339H367V335H368V331H369V327H370V322H371V318H372V314H373V312H374V312H375V312H376V315H377V317H378V320H379V321H380V324H381V327H382V330H383V331H384V334H385V337H386V340H387V342H388V345H389V347H390V350H391V352H392V355H393V357H394V360H395V362H396V363H397V363H398V363H399V363H400V363H401V363H402V363H403V362H404V362H405V362H406V361H407V361H408V361H409V362H410V362H411V361H412V361H413V362H414V362H415V362H416V362H417V362H418V362H419V362H420V362H421V362H422V362H423V363H424V363H425V361H426V361H427V361H428V361H429V363H430V363H431V363H432V362H433V362H434V362H435V362H436V362H437V362H438V362H439V362H440V362H441V362H442V362H443V362H444V362H445V362H446V361H447V361H448V362H449V363H450V361H451V361H452V363H453V363H454V363H455V361H456V362H457V362H458V362H459V362H460V362H461V361H462V361H463V361H464V361H465V361H466V361H467V363H468V363H469V363H470V362H471V362H472V362H473V362H474V361H475V361H476V361H477V361H478V361H479V361H480V361H481V361H482V361H483V362H484V361H485V361H486V361H487V361H488V361H489V362H490V362H491V362H492V362H493V362H494V362H495V363H496V363H497V363H498V363H499V363H500V363H501V363H502V363H503V362H504V362H505V362H506V362H507V362H508V362H509V362H510V361H511V361H512V361H513V362H514V362H515V362H516V362H517V362H518V362H519V362H520V362H521V362H522V362H523V362H524V362H525V362H526V362H527V361H528V361H529V361H530V361H531V361H532V362H533V362H534V362H535V361H536V361H537V361H538V361H539V361H540V362H541V362H542V362H543V362H544V362H545V362H546V362H547V362H548V362H549V362H550V363H551V363H552V363H553V363H554V363H555V363H556V363H557V360H558V356H559V351H560V347H561V343H562V338H563V334H564V330H565V325H566V321H567V317H568V312H569V312H570V312H571V312H572V314H573V316H574V319H575V321H576V324H577V327H578V329H579V331H580V333H581V336H582V338H583V341H584V343H585V348H586V351H587V351H588V354H589V356H590V359H591V362H592V362H593V362H594V362H595V362H596V362H597V362H598V362H599V362H600V363H601V363H602V363H603V363H604V363H605V362H606V362H607V362H608V362H609V362H610V362H611V362H612V362H613V362H614V362H615V362H616V362H617V363H618V363H619V363H620V363H621V363H622V363H623V363H624V362H625V362H626V362H627V362H628V362H629V361H630V362H631V362H632V362H633V363H634V363H635V363H636V363H637V363H638V362H639V362H640V362H641V363H642V363H643V363H644V363H645V363H646V362H647V362H648V362H649V363H650V362H651V362H652V362H653V362H654V362H655V362H656V363H657V363H658V363H659V363H660V363H661V363H662V363H663V363H664V363H665V363H666V361H667V361H668V361H669V361H670V361H671V361H672V362H673V362H674V362H675V362H676V362H677V362H678V362H679V362H680V362H681V362H682V362H683V362H684V362H685V362H686V363H687V363H688V363H689V362H690V361H691V361H692V361H693V361H694V362H695V362H696V362H697V362H698V362H699V362H700V362H701V362H702V362H703V362H704V363H705V363H706V363H707V363H708V363H709V362H710V362H711V362H712V362H713V362H714V362H715V363H716V363H717V363H718V363H719V363H720V363H721V363H722V363H723V362H724V362H725V362H726V362H727V362H728V362H729V362H730V362H731V361H732V361H733V363H734V363H735V363H736V363H737V363H738V363H739V362H740V362H741V362H742V362H743V362H744V362H745V363H746V363H747V363H748V363H749V363H750V361H751V360H752V356H753V352H754V349H755V345H756V341H757V336H758V331H759V328H760V324H761V320H762V315H763V314H764V314H765V314H766V314H767V316H768V318H769V321H770V323H771V332H770V329H769V328H768V326H767V323H766V322H765V319H764V323H763V326H762V330H761V334H760V338H759V341H758V346H757V350H756V354H755V359H754V363H753V366H752V368H751V368H750V370H749V370H748V370H747V368H746V369H745V369H744V369H743V368H742V368H741V368H740V368H739V369H738V369H737V368H736V368H735V368H734V368H733V368H732V368H731V368H730V368H729V370H728V370H727V370H726V370H725V368H724V369H723V369H722V369H721V369H720V368H719V368H718V368H717V368H716V369H715V369H714V369H713V369H712V369H711V369H710V369H709V369H708V369H707V369H706V369H705V369H704V368H703V368H702V368H701V368H700V368H699V368H698V368H697V369H696V369H695V370H694V369H693V369H692V368H691V369H690V369H689V369H688V370H687V370H686V369H685V369H684V369H683V369H682V369H681V369H680V369H679V369H678V369H677V369H676V369H675V369H674V369H673V369H672V369H671V370H670V370H669V370H668V370H667V368H666V368H665V368H664V368H663V368H662V368H661V368H660V369H659V369H658V369H657V368H656V368H655V368H654V370H653V370H652V370H651V370H650V370H649V370H648V370H647V370H646V368H645V368H644V368H643V368H642V368H641V368H640V368H639V368H638V368H637V369H636V369H635V369H634V369H633V369H632V369H631V369H630V369H629V369H628V369H627V370H626V370H625V369H624V369H623V369H622V369H621V369H620V368H619V368H618V368H617V368H616V368H615V370H614V370H613V370H612V370H611V370H610V369H609V369H608V369H607V369H606V369H605V369H604V370H603V370H602V370H601V370H600V370H599V368H598V368H597V368H596V369H595V369H594V369H593V369H592V369H591V368H590V366H589V363H588V362H587V359H586V357H585V354H584V351H583V349H582V344H581V342H580V340H579V338H578V335H577V333H576V331H575V328H574V325H573V322H572V321H571V318H570V318H569V323H568V327H567V331H566V336H565V341H564V345H563V349H562V354H561V358H560V360H559V365H558V368H557V370H556V370H555V368H554V368H553V368H552V368H551V368H550V368H549V370H548V370H547V370H546V370H545V368H544V368H543V368H542V368H541V368H540V368H539V370H538V370H537V369H536V369H535V369H534V369H533V369H532V369H531V369H530V369H529V368H528V368H527V368H526V368H525V369H524V370H523V370H522V368H521V368H520V368H519V368H518V368H517V368H516V370H515V370H514V370H513V370H512V370H511V370H510V370H509V370H508V370H507V370H506V370H505V370H504V370H503V370H502V370H501V370H500V368H499V368H498V368H497V368H496V368H495V370H494V370H493V370H492V370H491V370H490V370H489V370H488V370H487V370H486V370H485V369H484V369H483V369H482V369H481V369H480V368H479V368H478V368H477V368H476V368H475V369H474V369H473V369H472V369H471V369H470V369H469V369H468V369H467V369H466V369H465V369H464V369H463V369H462V369H461V369H460V369H459V370H458V370H457V370H456V368H455V368H454V368H453V368H452V368H451V368H450V368H449V369H448V369H447V369H446V368H445V368H444V369H443V369H442V369H441V369H440V369H439V369H438V369H437V369H436V369H435V369H434V369H433V369H432V369H431V369H430V369H429V369H428V369H427V369H426V369H425V369H424V370H423V370H422V370H421V370H420V368H419V368H418V368H417V369H416V369H415V369H414V369H413V369H412V369H411V370H410V370H409V370H408V368H407V368H406V368H405V368H404V369H403V369H402V369H401V369H400V369H399V369H398V370H397V370H396V370H395V366H394V364H393V361H392V359H391V356H390V354H389V352H388V350H387V347H386V345H385V342H384V340H383V337H382V335H381V333H380V331H379V328H378V326H377V324H376V320H375V318H374V319H373V323H372V327H371V331H370V336H369V340H368V344H367V349H366V353H365V357H364V361H363V366H362V369H361V368H360V368H359V368H358V368H357V368H356V368H355V370H354V369H353V369H352V369H351V369H350V369H349V369H348V369H347V369H346V369H345V369H344V369H343V369H342V368H341V368H340V368H339V368H338V368H337V368H336V368H335V368H334V369H333V369H332V369H331V369H330V369H329V369H328V369H327V369H326V369H325V369H324V369H323V369H322V369H321V369H320V369H319V369H318V368H317V368H316V368H315V368H314V370H313V370H312V370H311V369H310V369H309V369H308V369H307V369H306V368H305V368H304V370H303V370H302V370H301V370H300V370H299V370H298V369H297V369H296V368H295V368H294V368H293V369H292V369H291V369H290V369H289V368H288V368H287V370H286V370H285V369H284V369H283V369H282V369H281V369H280V369H279V369H278V369H277V369H276V368H275V368H274V368H273V368H272V368H271V370H270V370H269V369H268V369H267V369H266V369H265V369H264V368H263V368H262V368H261V368H260V368H259V369H258V369H257V369H256V369H255V369H254V369H253V370H252V370H251V369H250V369H249V370H248V370H247V370H246V368H245V368H244V368H243V369H242V369H241V369H240V369H239V369H238V369H237V370H236V370H235V369H234V369H233V369H232V369H231V368H230V368H229V368H228V369H227V369H226V369H225V369H224V369H223V369H222V368H221V368H220V370H219V370H218V368H217V368H216V368H215V368H214V369H213V370H212V368H211V368H210V368H209V368H208V368H207V370H206V370H205V370H204V370H203V370H202V370H201V370H200V368H199V368H198V367H197V365H196V362H195V360H194V357H193V355H192V353H191V350H190V348H189V345H188V343H187V342H186V340H185V337H184V335H183V333H182V330H181V328H180V325H179V323H178V320H177V318H176V319H175V323H174V327H173V332H172V336H171V340H170V346H169V350H168V353H167V358H166V362H165V366H164V369H163V369H162V369H161V369H160V370H159V370H158V370H157V370H156V370H155V368H154V368H153V368H152V368H151V368H150V368H149V369H148V369H147V369H146V369H145V369H144V369H143V369H142V370H141V370H140V370H139V370H138V370H137V370H136V370H135V370H134V370H133V369H132V369H131V369H130V369H129V369H128V370H127V370H126V368H125V368H124V368H123V368H122V368H121V368H120V368H119V368H118V370H117V370H116V370H115V370H114V369H113V369H112V369H111V369H110V369H109V369H108V370H107V370H106V370H105V370H104V370H103V370H102V369H101V369H100V369H99V369H98V369H97V369H96V369H95V369H94V369H93V369H92V368H91V368H90V369H89V369H88V369H87V369H86V369H85V368H84V368H83V369H82V369H81V369H80V369H79V369H78V369H77V369H76V369H75V369H74V369H73V369H72V369H71V369H70V368H69V368H68V368H67V368H66V368H65V369H64V368H63V368H62V369H61V370H60V370H59V370H58V370H57V370H56V369H55V369H54V369H53V370H52z"/>
<path fill="#00f4f4" d="M52 364H53V364H54V364H55V364H56V364H57V364H58V364H59V364H60V365H61V365H62V365H63V365H64V365H65V365H66V364H67V364H68V364H69V364H70V364H71V364H72V364H73V364H74V364H75V364H76V365H77V365H78V365H79V363H80V363H81V363H82V363H83V363H84V363H85V364H86V364H87V364H88V364H89V364H90V364H91V364H92V364H93V365H94V365H95V365H96V363H97V363H98V363H99V363H100V363H101V363H102V364H103V364H104V364H105V364H106V364H107V364H108V363H109V363H110V363H111V365H112V365H113V365H114V363H115V363H116V364H117V364H118V364H119V364H120V364H121V364H122V364H123V364H124V364H125V364H126V364H127V363H128V363H129V363H130V363H131V363H132V363H133V364H134V364H135V364H136V364H137V364H138V365H139V365H140V363H141V363H142V363H143V363H144V365H145V365H146V365H147V365H148V365H149V365H150V364H151V364H152V364H153V364H154V364H155V365H156V365H157V365H158V364H159V364H160V364H161V364H162V365H163V363H164V359H165V355H166V350H167V345H168V341H169V336H170V332H171V328H172V323H173V319H174V316H175V313H176V313H177V313H178V314H179V318H180V320H181V323H182V325H183V327H184V330H185V332H186V335H187V337H188V339H189V341H190V345H191V348H192V350H193V353H194V353H195V356H196V358H197V360H198V363H199V363H200V364H201V364H202V364H203V364H204V364H205V364H206V364H207V365H208V363H209V364H210V364H211V364H212V364H213V364H214V364H215V365H216V365H217V365H218V365H219V363H220V363H221V363H222V364H223V364H224V364H225V364H226V364H227V365H228V365H229V365H230V365H231V364H232V364H233V364H234V364H235V364H236V365H237V365H238V364H239V364H240V364H241V365H242V364H243V364H244V364H245V364H246V364H247V364H248V364H249V364H250V364H251V364H252V364H253V364H254V364H255V364H256V364H257V363H258V363H259V363H260V363H261V365H262V364H263V363H264V363H265V363H266V363H267V363H268V363H269V364H270V364H271V364H272V363H273V363H274V363H275V363H276V364H277V364H278V363H279V363H280V363H281V363H282V363H283V363H284V363H285V363H286V363H287V364H288V364H289V364H290V364H291V364H292V363H293V363H294V363H295V363H296V363H297V365H298V365H299V365H300V364H301V364H302V364H303V364H304V364H305V364H306V364H307V364H308V365H309V365H310V365H311V364H312V364H313V365H314V365H315V365H316V365H317V365H318V364H319V364H320V364H321V364H322V364H323V365H324V363H325V363H326V363H327V364H328V364H329V364H330V364H331V364H332V364H333V364H334V364H335V363H336V363H337V364H338V364H339V364H340V364H341V364H342V364H343V364H344V364H345V364H346V364H347V364H348V364H349V364H350V365H351V365H352V364H353V364H354V364H355V364H356V364H357V364H358V365H359V365H360V365H361V363H362V356H363V352H364V350H365V346H366V341H367V337H368V333H369V328H370V322H371V318H372V316H373V313H374V313H375V313H376V316H377V318H378V321H379V323H380V326H381V329H382V332H383V332H384V335H385V337H386V340H387V342H388V347H389V348H390V351H391V353H392V355H393V358H394V360H395V363H396V364H397V364H398V364H399V364H400V364H401V364H402V364H403V364H404V364H405V364H406V364H407V364H408V364H409V364H410V364H411V364H412V364H413V363H414V363H415V363H416V363H417V363H418V364H419V364H420V363H421V363H422V363H423V365H424V365H425V365H426V365H427V365H428V365H429V364H430V364H431V364H432V364H433V364H434V364H435V363H436V363H437V363H438V363H439V363H440V363H441V363H442V363H443V364H444V364H445V364H446V364H447V364H448V364H449V364H450V364H451V364H452V364H453V364H454V364H455V364H456V364H457V364H458V364H459V364H460V364H461V364H462V365H463V365H464V365H465V365H466V364H467V363H468V363H469V363H470V363H471V363H472V363H473V363H474V363H475V363H476V363H477V365H478V365H479V364H480V364H481V365H482V365H483V363H484V363H485V363H486V363H487V363H488V364H489V364H490V363H491V363H492V364H493V364H494V364H495V364H496V364H497V364H498V365H499V365H500V365H501V365H502V364H503V364H504V364H505V363H506V363H507V363H508V363H509V363H510V365H511V365H512V365H513V364H514V364H515V364H516V364H517V364H518V364H519V364H520V364H521V364H522V364H523V364H524V365H525V365H526V365H527V365H528V365H529V364H530V364H531V364H532V364H533V364H534V364H535V364H536V364H537V364H538V365H539V365H540V365H541V363H542V363H543V364H544V364H545V364H546V364H547V364H548V364H549V363H550V363H551V363H552V363H553V363H554V363H555V363H556V363H557V361H558V358H559V354H560V350H561V346H562V340H563V336H564V332H565V327H566V323H567V320H568V315H569V313H570V313H571V314H572V316H573V318H574V321H575V323H576V327H577V329H578V332H579V335H580V337H581V340H582V340H583V343H584V345H585V349H586V351H587V354H588V357H589V359H590V362H591V364H592V364H593V364H594V364H595V364H596V364H597V364H598V364H599V364H600V365H601V365H602V364H603V364H604V363H605V363H606V364H607V364H608V364H609V364H610V363H611V363H612V363H613V363H614V363H615V364H616V364H617V364H618V364H619V364H620V363H621V363H622V363H623V364H624V364H625V363H626V365H627V365H628V365H629V365H630V364H631V364H632V364H633V364H634V364H635V364H636V364H637V364H638V364H639V364H640V364H641V365H642V365H643V365H644V365H645V365H646V365H647V364H648V364H649V365H650V365H651V365H652V364H653V364H654V364H655V364H656V363H657V363H658V363H659V363H660V363H661V363H662V365H663V363H664V363H665V364H666V363H667V363H668V363H669V363H670V363H671V364H672V364H673V364H674V364H675V364H676V364H677V364H678V365H679V365H680V365H681V365H682V365H683V365H684V365H685V365H686V363H687V363H688V363H689V363H690V363H691V363H692V364H693V364H694V364H695V364H696V364H697V364H698V364H699V364H700V364H701V363H702V363H703V363H704V364H705V364H706V364H707V364H708V364H709V364H710V364H711V364H712V364H713V364H714V364H715V364H716V364H717V364H718V364H719V364H720V364H721V364H722V363H723V363H724V363H725V363H726V363H727V363H728V363H729V363H730V364H731V364H732V364H733V364H734V364H735V364H736V364H737V365H738V365H739V365H740V365H741V365H742V365H743V364H744V364H745V364H746V364H747V365H748V365H749V363H750V363H751V362H752V358H753V355H754V351H755V347H756V343H757V338H758V334H759V330H760V326H761V322H762V317H763V315H764V320H763V324H762V327H761V331H760V335H759V339H758V345H757V349H756V353H755V356H754V361H753V365H752V368H751V368H750V368H749V368H748V367H747V367H746V367H745V367H744V368H743V368H742V368H741V368H740V368H739V367H738V367H737V367H736V367H735V367H734V366H733V366H732V366H731V366H730V366H729V366H728V366H727V366H726V366H725V367H724V367H723V367H722V367H721V367H720V367H719V367H718V366H717V366H716V366H715V366H714V366H713V366H712V366H711V368H710V368H709V368H708V366H707V366H706V366H705V366H704V366H703V366H702V366H701V366H700V366H699V368H698V368H697V368H696V368H695V368H694V367H693V368H692V368H691V368H690V368H689V368H688V368H687V366H686V366H685V366H684V368H683V368H682V368H681V368H680V367H679V367H678V367H677V367H676V367H675V367H674V367H673V367H672V367H671V367H670V367H669V368H668V368H667V367H666V367H665V367H664V367H663V367H662V367H661V368H660V368H659V368H658V367H657V367H656V367H655V367H654V367H653V367H652V367H651V367H650V367H649V367H648V366H647V366H646V366H645V366H644V366H643V366H642V366H641V366H640V366H639V368H638V368H637V367H636V367H635V367H634V367H633V367H632V367H631V367H630V367H629V367H628V367H627V367H626V367H625V367H624V366H623V366H622V366H621V366H620V366H619V366H618V367H617V367H616V367H615V366H614V366H613V368H612V368H611V367H610V367H609V367H608V367H607V367H606V368H605V367H604V367H603V367H602V367H601V368H600V368H599V368H598V368H597V368H596V368H595V368H594V368H593V368H592V368H591V366H590V364H589V362H588V360H587V357H586V355H585V351H584V349H583V346H582V343H581V341H580V338H579V336H578V333H577V331H576V328H575V326H574V322H573V320H572V317H571V314H570V315H569V322H568V326H567V330H566V335H565V339H564V343H563V347H562V351H561V355H560V360H559V364H558V367H557V367H556V367H555V367H554V367H553V367H552V367H551V367H550V366H549V366H548V366H547V366H546V367H545V368H544V367H543V367H542V366H541V366H540V366H539V366H538V366H537V366H536V367H535V367H534V366H533V366H532V366H531V366H530V366H529V366H528V368H527V366H526V366H525V366H524V367H523V367H522V367H521V367H520V367H519V367H518V366H517V366H516V366H515V367H514V367H513V367H512V366H511V366H510V366H509V367H508V367H507V367H506V367H505V367H504V367H503V367H502V367H501V367H500V367H499V367H498V367H497V367H496V367H495V367H494V367H493V367H492V367H491V367H490V367H489V367H488V367H487V368H486V368H485V368H484V366H483V366H482V367H481V367H480V367H479V367H478V367H477V367H476V367H475V366H474V366H473V366H472V366H471V366H470V366H469V368H468V368H467V367H466V367H465V367H464V367H463V367H462V367H461V367H460V367H459V366H458V366H457V366H456V366H455V366H454V366H453V367H452V367H451V367H450V367H449V367H448V367H447V367H446V366H445V366H444V366H443V368H442V368H441V368H440V368H439V368H438V366H437V366H436V366H435V368H434V368H433V368H432V368H431V368H430V368H429V367H428V367H427V367H426V366H425V368H424V368H423V368H422V367H421V367H420V367H419V367H418V367H417V367H416V367H415V367H414V367H413V367H412V367H411V367H410V367H409V367H408V367H407V367H406V368H405V368H404V368H403V368H402V368H401V368H400V368H399V368H398V368H397V366H396V366H395V364H394V362H393V359H392V357H391V356H390V354H389V350H388V347H387V344H386V342H385V339H384V338H383V335H382V332H381V330H380V329H379V327H378V324H377V321H376V318H375V315H374V316H373V322H372V326H371V331H370V335H369V339H368V343H367V347H366V351H365V355H364V360H363V364H362V368H361V368H360V367H359V367H358V367H357V367H356V367H355V367H354V367H353V367H352V367H351V367H350V367H349V367H348V367H347V366H346V366H345V366H344V366H343V366H342V367H341V367H340V367H339V368H338V368H337V368H336V368H335V368H334V368H333V368H332V367H331V367H330V367H329V367H328V367H327V367H326V367H325V367H324V366H323V366H322V366H321V366H320V367H319V367H318V368H317V367H316V367H315V367H314V366H313V368H312V368H311V368H310V368H309V368H308V367H307V367H306V366H305V366H304V366H303V366H302V366H301V366H300V366H299V366H298V367H297V367H296V367H295V367H294V368H293V368H292V368H291V368H290V368H289V368H288V367H287V367H286V367H285V367H284V367H283V367H282V366H281V366H280V366H279V367H278V367H277V367H276V367H275V367H274V367H273V367H272V367H271V367H270V367H269V367H268V367H267V367H266V367H265V368H264V368H263V368H262V368H261V368H260V368H259V367H258V367H257V367H256V367H255V367H254V366H253V366H252V366H251V366H250V366H249V368H248V368H247V368H246V368H245V367H244V367H243V367H242V367H241V367H240V367H239V367H238V367H237V367H236V366H235V366H234V366H233V366H232V366H231V366H230V366H229V366H228V366H227V366H226V366H225V366H224V368H223V368H222V368H221V368H220V368H219V368H218V367H217V366H216V366H215V366H214V367H213V367H212V367H211V367H210V367H209V367H208V368H207V368H206V368H205V368H204V366H203V366H202V366H201V367H200V367H199V367H198V366H197V364H196V361H195V359H194V356H193V354H192V352H191V349H190V346H189V343H188V343H187V340H186V338H185V336H184V333H183V331H182V328H181V326H180V323H179V321H178V319H177V315H176V317H175V321H174V325H173V329H172V333H171V338H170V343H169V347H168V351H167V356H166V360H165V364H164V367H163V367H162V367H161V367H160V367H159V367H158V367H157V367H156V368H155V368H154V368H153V366H152V366H151V366H150V366H149V366H148V366H147V368H146V368H145V367H144V367H143V367H142V367H141V367H140V367H139V367H138V368H137V366H136V366H135V366H134V368H133V367H132V367H131V367H130V367H129V367H128V367H127V367H126V367H125V368H124V368H123V368H122V367H121V367H120V367H119V367H118V367H117V367H116V367H115V367H114V367H113V367H112V368H111V367H110V367H109V367H108V367H107V367H106V366H105V366H104V367H103V368H102V368H101V368H100V367H99V367H98V367H97V367H96V367H95V367H94V367H93V366H92V366H91V366H90V366H89V366H88V367H87V367H86V367H85V367H84V367H83V367H82V367H81V367H80V367H79V367H78V367H77V366H76V366H75V366H74V366H73V366H72V367H71V367H70V367H69V367H68V367H67V367H66V368H65V368H64V368H63V368H62V368H61V366H60V366H59V367H58V367H57V368H56V368H55V366H54V366H53V366H52zM765 315H766V318H767V320H768V322H769V325H770V325H771V330H770V329H769V326H768V323H767V320H766V318H765z"/>
<path fill="#00008a" d="M21 88H22V92H23V92H24V92H25V95H26V95H27V95H28V94H29V96H30V95H31V95H32V97H33V96H34V95H35V99H36V96H37V100H38V99H39V99H40V99H41V100H42V96H43V101H44V102H45V102H46V102H47V101H48V103H49V103H50V99H51V97H52V100H53V102H54V104H55V104H56V105H57V105H58V105H59V103H60V106H61V104H62V105H63V106H64V105H65V105H66V105H67V106H68V106H69V107H70V107H71V108H72V108H73V108H74V107H75V108H76V108H77V108H78V108H79V107H80V107H81V104H82V108H83V108H84V110H85V110H86V110H87V111H88V111H89V108H90V113H91V109H92V113H93V113H94V112H95V111H96V112H97V112H98V108H99V116H100V116H101V115H102V114H103V114H104V114H105V114H106V114H107V114H108V115H109V116H110V116H111V116H112V118H113V115H114V118H115V118H116V119H117V119H118V119H119V119H120V119H121V119H122V119H123V118H124V118H125V118H126V118H127V119H128V119H129V118H130V118H131V121H132V121H133V121H134V122H135V121H136V118H137V122H138V122H139V124H140V124H141V124H142V124H143V125H144V125H145V121H146V121H147V123H148V123H149V123H150V124H151V122H152V125H153V128H154V125H155V127H156V127H157V126H158V127H159V127H160V126H161V126H162V125H163V124H164V121H165V120H166V120H167V115H168V118H169V119H170V116H171V115H172V113H173V111H174V111H175V110H176V109H177V109H178V108H179V106H180V104H181V100H182V100H183V99H184V96H185V97H186V99H187V98H188V97H189V94H190V96H191V97H192V97H193V97H194V97H195V97H196V96H197V96H198V95H199V95H200V94H201V93H202V95H203V93H204V93H205V93H206V93H207V93H208V93H209V93H210V93H211V90H212V94H213V90H214V94H215V94H216V94H217V94H218V92H219V90H220V92H221V89H222V93H223V98H224V99H225V98H226V98H227V99H228V99H229V99H230V98H231V99H232V99H233V95H234V98H235V99H236V99H237V97H238V97H239V98H240V98H241V100H242V101H243V102H244V102H245V102H246V102H247V102H248V103H249V103H250V102H251V103H252V104H253V104H254V105H255V105H256V105H257V100H258V102H259V104H260V105H261V106H262V106H263V106H264V105H265V106H266V106H267V106H268V107H269V106H270V109H271V107H272V108H273V108H274V108H275V108H276V109H277V108H278V108H279V110H280V110H281V111H282V111H283V111H284V107H285V109H286V109H287V111H288V111H289V111H290V112H291V111H292V108H293V112H294V113H295V113H296V113H297V113H298V113H299V116H300V115H301V116H302V113H303V114H304V115H305V115H306V112H307V115H308V114H309V114H310V114H311V111H312V117H313V118H314V118H315V118H316V116H317V115H318V116H319V116H320V118H321V118H322V119H323V119H324V119H325V119H326V121H327V120H328V120H329V117H330V120H331V120H332V120H333V119H334V117H335V117H336V117H337V118H338V119H339V119H340V120H341V120H342V123H343V123H344V124H345V125H346V126H347V126H348V126H349V126H350V126H351V123H352V125H353V126H354V122H355V126H356V126H357V126H358V127H359V127H360V126H361V124H362V120H363V118H364V117H365V116H366V118H367V117H368V116H369V115H370V113H371V112H372V111H373V109H374V108H375V107H376V106H377V105H378V104H379V103H380V101H381V101H382V98H383V97H384V92H385V95H386V94H387V94H388V93H389V93H390V95H391V95H392V94H393V94H394V94H395V96H396V96H397V96H398V96H399V94H400V93H401V93H402V93H403V93H404V92H405V92H406V91H407V91H408V94H409V88H410V92H411V92H412V92H413V93H414V93H415V95H416V91H417V96H418V96H419V97H420V97H421V97H422V94H423V99H424V96H425V99H426V99H427V100H428V101H429V99H430V95H431V99H432V100H433V99H434V99H435V99H436V103H437V103H438V103H439V102H440V103H441V103H442V101H443V98H444V101H445V103H446V103H447V102H448V104H449V102H450V102H451V102H452V102H453V103H454V102H455V103H456V103H457V104H458V104H459V104H460V104H461V103H462V105H463V105H464V106H465V106H466V105H467V106H468V107H469V108H470V108H471V107H472V107H473V108H474V108H475V104H476V108H477V108H478V108H479V109H480V109H481V109H482V109H483V105H484V109H485V109H486V109H487V110H488V110H489V107H490V111H491V113H492V114H493V112H494V115H495V113H496V113H497V113H498V113H499V114H500V111H501V114H502V112H503V115H504V115H505V115H506V115H507V115H508V115H509V116H510V116H511V116H512V117H513V114H514V117H515V118H516V118H517V118H518V117H519V117H520V117H521V119H522V119H523V119H524V121H525V118H526V121H527V121H528V121H529V122H530V122H531V122H532V122H533V125H534V125H535V125H536V125H537V126H538V123H539V123H540V124H541V123H542V123H543V126H544V125H545V126H546V126H547V123H548V123H549V125H550V125H551V125H552V124H553V127H554V126H555V124H556V123H557V123H558V122H559V121H560V120H561V119H562V118H563V113H564V112H565V110H566V109H567V108H568V110H569V109H570V109H571V108H572V107H573V106H574V104H575V103H576V100H577V99H578V100H579V98H580V93H581V96H582V92H583V94H584V94H585V95H586V94H587V93H588V93H589V94H590V94H591V91H592V91H593V91H594V95H595V95H596V95H597V95H598V95H599V94H600V92H601V93H602V93H603V94H604V95H605V95H606V94H607V94H608V94H609V94H610V94H611V94H612V96H613V96H614V95H615V94H616V97H617V97H618V96H619V98H620V99H621V95H622V100H623V100H624V100H625V99H626V99H627V98H628V94H629V99H630V99H631V98H632V98H633V100H634V100H635V100H636V98H637V100H638V103H639V103H640V101H641V101H642V101H643V104H644V104H645V104H646V104H647V103H648V103H649V104H650V105H651V105H652V104H653V105H654V106H655V103H656V107H657V106H658V106H659V106H660V104H661V105H662V105H663V107H664V107H665V108H666V108H667V108H668V109H669V107H670V107H671V107H672V108H673V108H674V108H675V110H676V111H677V111H678V109H679V112H680V113H681V111H682V113H683V110H684V110H685V110H686V110H687V114H688V115H689V113H690V113H691V113H692V112H693V112H694V113H695V113H696V113H697V113H698V115H699V115H700V115H701V117H702V118H703V118H704V117H705V117H706V118H707V119H708V119H709V119H710V119H711V120H712V116H713V116H714V116H715V117H716V116H717V120H718V120H719V120H720V120H721V120H722V120H723V119H724V122H725V122H726V122H727V122H728V122H729V122H730V121H731V121H732V121H733V122H734V122H735V122H736V123H737V123H738V123H739V123H740V124H741V120H742V125H743V122H744V127H745V127H746V126H747V125H748V124H749V123H750V123H751V122H752V121H753V121H754V120H755V119H756V118H757V113H758V116H759V116H760V114H761V109H762V105H763V106H764V105H765V103H766V102H767V100H768V100H769V102H770V100H771V108H770V113H769V111H768V112H767V114H766V115H765V115H764V117H763V122H762V124H761V125H760V126H759V127H758V126H757V127H756V128H755V130H754V131H753V133H752V134H751V135H750V135H749V136H748V136H747V134H746V133H745V133H744V132H743V132H742V131H741V134H740V131H739V130H738V130H737V130H736V130H735V130H734V130H733V130H732V130H731V129H730V129H729V131H728V131H727V131H726V128H725V128H724V127H723V128H722V128H721V128H720V128H719V128H718V128H717V128H716V128H715V127H714V127H713V129H712V130H711V128H710V127H709V127H708V127H707V126H706V126H705V126H704V131H703V128H702V127H701V124H700V124H699V124H698V123H697V122H696V122H695V122H694V121H693V124H692V124H691V124H690V125H689V123H688V127H687V123H686V123H685V123H684V121H683V123H682V122H681V121H680V121H679V123H678V121H677V121H676V120H675V119H674V119H673V119H672V118H671V122H670V118H669V118H668V117H667V117H666V117H665V117H664V116H663V116H662V116H661V115H660V115H659V115H658V115H657V114H656V114H655V114H654V114H653V113H652V115H651V119H650V115H649V114H648V114H647V112H646V112H645V112H644V115H643V112H642V111H641V111H640V111H639V112H638V116H637V112H636V112H635V115H634V111H633V110H632V114H631V110H630V112H629V111H628V111H627V114H626V110H625V111H624V107H623V110H622V106H621V111H620V108H619V105H618V105H617V107H616V106H615V106H614V106H613V106H612V108H611V104H610V103H609V103H608V103H607V103H606V103H605V103H604V105H603V109H602V104H601V104H600V103H599V103H598V104H597V107H596V104H595V101H594V101H593V105H592V105H591V104H590V104H589V104H588V104H587V105H586V105H585V105H584V106H583V106H582V107H581V110H580V111H579V111H578V112H577V113H576V115H575V113H574V115H573V116H572V115H571V116H570V117H569V117H568V119H567V124H566V125H565V131H564V128H563V127H562V131H561V135H560V133H559V133H558V131H557V132H556V133H555V135H554V141H553V138H552V135H551V136H550V133H549V133H548V133H547V133H546V133H545V134H544V134H543V134H542V134H541V134H540V132H539V132H538V132H537V133H536V131H535V133H534V134H533V133H532V133H531V133H530V131H529V134H528V130H527V133H526V130H525V129H524V129H523V129H522V129H521V128H520V128H519V128H518V130H517V129H516V126H515V126H514V125H513V128H512V131H511V127H510V125H509V125H508V124H507V127H506V125H505V127H504V128H503V126H502V126H501V129H500V122H499V123H498V122H497V121H496V121H495V123H494V123H493V122H492V122H491V123H490V122H489V122H488V122H487V121H486V118H485V118H484V117H483V117H482V117H481V117H480V118H479V117H478V117H477V121H476V120H475V120H474V120H473V118H472V120H471V118H470V118H469V118H468V117H467V117H466V117H465V117H464V115H463V115H462V114H461V114H460V121H459V117H458V117H457V114H456V114H455V114H454V114H453V113H452V113H451V113H450V113H449V113H448V111H447V111H446V111H445V111H444V111H443V111H442V111H441V111H440V110H439V110H438V110H437V110H436V111H435V109H434V111H433V111H432V110H431V108H430V112H429V107H428V107H427V109H426V107H425V107H424V108H423V106H422V106H421V107H420V106H419V105H418V106H417V104H416V105H415V104H414V104H413V102H412V102H411V101H410V101H409V103H408V103H407V103H406V103H405V101H404V101H403V101H402V105H401V103H400V103H399V103H398V105H397V104H396V107H395V106H394V106H393V107H392V111H391V107H390V107H389V103H388V106H387V106H386V107H385V107H384V108H383V109H382V112H381V113H380V114H379V113H378V114H377V116H376V117H375V121H374V119H373V120H372V121H371V122H370V127H369V127H368V128H367V129H366V129H365V129H364V130H363V131H362V133H361V135H360V135H359V135H358V135H357V137H356V138H355V139H354V134H353V137H352V134H351V136H350V136H349V136H348V137H347V136H346V136H345V136H344V135H343V134H342V134H341V134H340V132H339V132H338V131H337V127H336V127H335V127H334V128H333V131H332V128H331V132H330V132H329V132H328V132H327V131H326V131H325V129H324V129H323V129H322V128H321V128H320V127H319V129H318V128H317V128H316V127H315V127H314V127H313V126H312V126H311V126H310V125H309V125H308V124H307V123H306V123H305V127H304V124H303V123H302V123H301V123H300V123H299V126H298V122H297V122H296V122H295V122H294V123H293V123H292V123H291V123H290V120H289V120H288V120H287V120H286V120H285V119H284V123H283V119H282V124H281V121H280V121H279V118H278V118H277V118H276V117H275V117H274V117H273V117H272V119H271V116H270V116H269V116H268V116H267V119H266V116H265V116H264V115H263V115H262V117H261V117H260V116H259V116H258V116H257V115H256V113H255V113H254V112H253V112H252V112H251V112H250V110H249V109H248V110H247V112H246V113H245V110H244V110H243V109H242V109H241V109H240V109H239V108H238V109H237V108H236V108H235V107H234V107H233V110H232V108H231V106H230V106H229V106H228V106H227V107H226V107H225V107H224V110H223V106H222V105H221V104H220V104H219V104H218V104H217V106H216V106H215V104H214V103H213V105H212V105H211V105H210V105H209V105H208V104H207V104H206V104H205V104H204V104H203V104H202V105H201V105H200V105H199V103H198V104H197V104H196V104H195V105H194V105H193V105H192V104H191V104H190V106H189V108H188V107H187V109H186V108H185V112H184V114H183V113H182V115H181V116H180V116H179V117H178V117H177V118H176V120H175V119H174V120H173V126H172V125H171V127H170V131H169V131H168V131H167V132H166V133H165V134H164V132H163V132H162V133H161V133H160V135H159V135H158V135H157V136H156V139H155V136H154V139H153V134H152V134H151V133H150V132H149V132H148V133H147V133H146V133H145V133H144V133H143V136H142V130H141V130H140V131H139V131H138V131H137V130H136V130H135V134H134V129H133V129H132V129H131V128H130V130H129V130H128V130H127V128H126V128H125V131H124V130H123V130H122V127H121V127H120V126H119V126H118V125H117V130H116V126H115V126H114V126H113V126H112V128H111V128H110V128H109V128H108V127H107V127H106V126H105V125H104V123H103V126H102V126H101V123H100V122H99V122H98V124H97V124H96V126H95V124H94V123H93V123H92V122H91V122H90V122H89V120H88V120H87V119H86V119H85V119H84V118H83V119H82V119H81V118H80V116H79V116H78V118H77V118H76V121H75V116H74V116H73V115H72V115H71V114H70V117H69V117H68V117H67V113H66V117H65V113H64V113H63V112H62V117H61V114H60V113H59V113H58V109H57V109H56V109H55V109H54V109H53V109H52V109H51V109H50V109H49V109H48V109H47V109H46V109H45V109H44V108H43V109H42V109H41V109H40V109H39V108H38V109H37V108H36V109H35V107H34V107H33V106H32V106H31V107H30V107H29V106H28V106H27V106H26V107H25V109H24V106H23V106H22V106H21z"/>
<path fill="#0000f4" d="M21 96H22V97H23V97H24V97H25V97H26V97H27V98H28V98H29V97H30V97H31V98H32V98H33V98H34V99H35V100H36V100H37V100H38V101H39V102H40V102H41V102H42V103H43V101H44V101H45V101H46V102H47V102H48V104H49V104H50V104H51V104H52V104H53V104H54V104H55V106H56V106H57V107H58V107H59V105H60V105H61V106H62V106H63V108H64V108H65V109H66V109H67V109H68V108H69V109H70V109H71V108H72V110H73V111H74V111H75V111H76V111H77V111H78V111H79V110H80V110H81V112H82V113H83V111H84V111H85V112H86V112H87V112H88V113H89V113H90V113H91V114H92V115H93V115H94V114H95V114H96V115H97V117H98V116H99V116H100V115H101V115H102V116H103V116H104V116H105V116H106V119H107V117H108V117H109V117H110V118H111V118H112V119H113V119H114V121H115V121H116V121H117V121H118V121H119V121H120V121H121V122H122V122H123V122H124V122H125V121H126V121H127V122H128V121H129V122H130V122H131V122H132V123H133V123H134V123H135V124H136V123H137V123H138V123H139V124H140V124H141V126H142V126H143V126H144V126H145V126H146V127H147V127H148V127H149V127H150V127H151V128H152V128H153V129H154V130H155V131H156V130H157V130H158V129H159V129H160V129H161V126H162V125H163V125H164V124H165V123H166V123H167V122H168V121H169V120H170V118H171V117H172V115H173V113H174V112H175V111H176V110H177V110H178V109H179V108H180V107H181V104H182V103H183V102H184V102H185V101H186V100H187V100H188V100H189V99H190V99H191V99H192V98H193V98H194V98H195V99H196V97H197V97H198V97H199V97H200V96H201V96H202V96H203V96H204V96H205V96H206V95H207V95H208V95H209V97H210V97H211V97H212V97H213V97H214V97H215V97H216V96H217V96H218V96H219V96H220V97H221V97H222V98H223V98H224V99H225V100H226V100H227V99H228V99H229V99H230V101H231V101H232V101H233V102H234V102H235V102H236V102H237V103H238V103H239V102H240V103H241V103H242V103H243V103H244V103H245V104H246V104H247V105H248V105H249V105H250V105H251V106H252V106H253V105H254V105H255V106H256V106H257V106H258V105H259V106H260V106H261V106H262V107H263V107H264V107H265V108H266V108H267V109H268V110H269V111H270V111H271V111H272V110H273V111H274V111H275V111H276V111H277V111H278V111H279V111H280V113H281V113H282V112H283V114H284V113H285V113H286V113H287V114H288V115H289V114H290V115H291V113H292V114H293V114H294V114H295V115H296V116H297V116H298V116H299V116H300V117H301V118H302V118H303V118H304V118H305V118H306V118H307V118H308V118H309V118H310V119H311V119H312V119H313V119H314V119H315V120H316V121H317V121H318V121H319V122H320V122H321V120H322V120H323V120H324V121H325V121H326V121H327V121H328V124H329V124H330V124H331V124H332V124H333V123H334V123H335V122H336V122H337V122H338V122H339V124H340V124H341V124H342V125H343V125H344V126H345V127H346V127H347V128H348V128H349V129H350V129H351V127H352V127H353V127H354V128H355V128H356V129H357V129H358V129H359V130H360V129H361V126H362V124H363V123H364V122H365V120H366V119H367V118H368V116H369V115H370V114H371V113H372V112H373V112H374V111H375V110H376V109H377V108H378V107H379V107H380V106H381V104H382V103H383V101H384V99H385V98H386V97H387V97H388V99H389V98H390V97H391V97H392V97H393V98H394V98H395V97H396V96H397V96H398V96H399V95H400V95H401V96H402V96H403V96H404V96H405V96H406V96H407V96H408V96H409V96H410V97H411V97H412V97H413V97H414V98H415V98H416V97H417V97H418V98H419V98H420V100H421V100H422V100H423V100H424V100H425V101H426V101H427V101H428V101H429V102H430V103H431V102H432V102H433V102H434V103H435V103H436V104H437V105H438V105H439V105H440V104H441V104H442V104H443V105H444V105H445V104H446V104H447V104H448V104H449V104H450V107H451V107H452V107H453V107H454V107H455V108H456V108H457V108H458V108H459V109H460V109H461V109H462V109H463V108H464V109H465V109H466V109H467V109H468V108H469V108H470V109H471V111H472V111H473V111H474V111H475V112H476V112H477V111H478V111H479V110H480V110H481V111H482V111H483V111H484V113H485V114H486V114H487V113H488V115H489V115H490V115H491V116H492V116H493V116H494V117H495V117H496V117H497V115H498V115H499V116H500V116H501V118H502V118H503V118H504V118H505V118H506V119H507V119H508V119H509V119H510V120H511V118H512V118H513V120H514V120H515V120H516V122H517V122H518V122H519V123H520V123H521V123H522V123H523V124H524V124H525V124H526V123H527V124H528V125H529V125H530V125H531V126H532V126H533V125H534V126H535V126H536V126H537V125H538V126H539V126H540V126H541V126H542V128H543V128H544V128H545V128H546V129H547V128H548V128H549V128H550V128H551V129H552V128H553V130H554V128H555V127H556V126H557V125H558V124H559V122H560V121H561V120H562V118H563V117H564V115H565V116H566V115H567V113H568V113H569V112H570V110H571V109H572V109H573V107H574V106H575V104H576V103H577V101H578V101H579V99H580V98H581V97H582V97H583V98H584V98H585V96H586V95H587V95H588V96H589V96H590V96H591V96H592V96H593V96H594V97H595V95H596V95H597V96H598V96H599V96H600V96H601V96H602V96H603V96H604V96H605V97H606V98H607V98H608V98H609V97H610V97H611V97H612V97H613V97H614V98H615V98H616V98H617V98H618V99H619V99H620V99H621V100H622V100H623V102H624V102H625V103H626V102H627V103H628V103H629V103H630V102H631V103H632V103H633V103H634V103H635V105H636V105H637V105H638V105H639V105H640V104H641V104H642V104H643V104H644V104H645V106H646V106H647V106H648V106H649V105H650V105H651V106H652V106H653V106H654V107H655V108H656V108H657V107H658V107H659V108H660V109H661V109H662V110H663V110H664V110H665V110H666V111H667V111H668V111H669V111H670V112H671V112H672V112H673V112H674V113H675V113H676V113H677V113H678V114H679V114H680V114H681V114H682V115H683V116H684V116H685V116H686V116H687V116H688V116H689V116H690V116H691V117H692V117H693V117H694V116H695V116H696V117H697V118H698V118H699V118H700V119H701V117H702V117H703V117H704V120H705V120H706V120H707V118H708V119H709V119H710V119H711V119H712V120H713V121H714V121H715V121H716V121H717V121H718V122H719V122H720V122H721V122H722V122H723V123H724V123H725V122H726V123H727V123H728V123H729V122H730V122H731V123H732V123H733V124H734V123H735V123H736V125H737V125H738V125H739V126H740V126H741V127H742V127H743V126H744V126H745V127H746V127H747V129H748V129H749V128H750V128H751V127H752V124H753V123H754V122H755V121H756V120H757V119H758V118H759V116H760V115H761V113H762V111H763V109H764V108H765V108H766V107H767V106H768V103H769V101H770V100H771V107H770V108H769V109H768V111H767V113H766V114H765V115H764V116H763V118H762V120H761V120H760V121H759V122H758V124H757V125H756V126H755V127H754V129H753V130H752V132H751V132H750V132H749V132H748V132H747V132H746V132H745V131H744V133H743V132H742V131H741V130H740V130H739V129H738V129H737V129H736V128H735V127H734V127H733V127H732V127H731V129H730V129H729V129H728V128H727V128H726V128H725V128H724V126H723V126H722V126H721V126H720V125H719V127H718V127H717V127H716V127H715V125H714V125H713V124H712V124H711V126H710V126H709V125H708V125H707V123H706V123H705V122H704V122H703V122H702V122H701V122H700V122H699V122H698V122H697V121H696V121H695V120H694V120H693V120H692V119H691V119H690V119H689V120H688V120H687V120H686V119H685V119H684V119H683V118H682V118H681V119H680V119H679V118H678V118H677V118H676V118H675V117H674V117H673V117H672V117H671V117H670V116H669V116H668V117H667V114H666V115H665V115H664V115H663V114H662V114H661V114H660V114H659V113H658V113H657V113H656V113H655V112H654V113H653V113H652V113H651V112H650V112H649V112H648V112H647V111H646V111H645V110H644V110H643V110H642V110H641V110H640V109H639V110H638V110H637V110H636V109H635V109H634V109H633V109H632V109H631V108H630V108H629V108H628V108H627V106H626V106H625V105H624V106H623V105H622V105H621V103H620V103H619V103H618V103H617V103H616V103H615V102H614V103H613V103H612V103H611V103H610V102H609V102H608V102H607V102H606V102H605V100H604V100H603V100H602V100H601V100H600V100H599V101H598V101H597V101H596V101H595V101H594V101H593V101H592V101H591V101H590V101H589V100H588V100H587V100H586V101H585V101H584V103H583V102H582V103H581V106H580V107H579V108H578V109H577V108H576V109H575V111H574V112H573V113H572V114H571V117H570V117H569V117H568V118H567V119H566V120H565V121H564V123H563V125H562V126H561V127H560V128H559V128H558V128H557V129H556V131H555V132H554V134H553V134H552V134H551V133H550V133H549V133H548V132H547V132H546V133H545V132H544V132H543V132H542V132H541V132H540V131H539V130H538V130H537V130H536V132H535V131H534V129H533V129H532V130H531V129H530V130H529V128H528V127H527V127H526V127H525V127H524V126H523V126H522V126H521V126H520V125H519V125H518V125H517V127H516V126H515V126H514V124H513V123H512V123H511V123H510V122H509V123H508V123H507V122H506V122H505V121H504V123H503V123H502V123H501V121H500V121H499V121H498V122H497V122H496V122H495V120H494V120H493V120H492V120H491V120H490V120H489V119H488V118H487V117H486V116H485V116H484V116H483V116H482V115H481V115H480V115H479V115H478V115H477V114H476V114H475V114H474V114H473V114H472V114H471V113H470V113H469V113H468V113H467V113H466V112H465V112H464V112H463V112H462V112H461V112H460V111H459V111H458V111H457V111H456V111H455V111H454V111H453V111H452V110H451V110H450V110H449V110H448V110H447V110H446V110H445V109H444V108H443V108H442V108H441V108H440V108H439V108H438V109H437V109H436V109H435V107H434V106H433V106H432V106H431V105H430V105H429V105H428V106H427V106H426V105H425V105H424V104H423V105H422V105H421V104H420V103H419V103H418V102H417V104H416V103H415V101H414V100H413V100H412V101H411V101H410V101H409V100H408V100H407V100H406V100H405V100H404V100H403V100H402V100H401V102H400V102H399V102H398V100H397V100H396V102H395V102H394V103H393V103H392V103H391V103H390V101H389V101H388V101H387V102H386V103H385V104H384V107H383V109H382V110H381V109H380V110H379V111H378V112H377V113H376V114H375V115H374V116H373V117H372V118H371V119H370V120H369V121H368V122H367V125H366V126H365V126H364V128H363V131H362V133H361V135H360V134H359V134H358V133H357V133H356V132H355V132H354V132H353V132H352V132H351V131H350V131H349V131H348V131H347V131H346V132H345V131H344V130H343V130H342V130H341V130H340V129H339V126H338V126H337V125H336V125H335V126H334V126H333V127H332V127H331V129H330V128H329V127H328V127H327V127H326V127H325V126H324V126H323V126H322V126H321V126H320V124H319V124H318V124H317V124H316V123H315V125H314V125H313V123H312V123H311V122H310V122H309V122H308V122H307V123H306V122H305V122H304V121H303V121H302V123H301V122H300V122H299V121H298V121H297V119H296V119H295V119H294V119H293V118H292V118H291V120H290V120H289V118H288V117H287V119H286V119H285V119H284V119H283V118H282V116H281V116H280V116H279V116H278V115H277V115H276V115H275V115H274V114H273V115H272V115H271V115H270V114H269V114H268V114H267V115H266V114H265V114H264V112H263V112H262V111H261V112H260V112H259V111H258V110H257V110H256V109H255V109H254V111H253V111H252V110H251V110H250V110H249V109H248V109H247V108H246V107H245V107H244V107H243V107H242V107H241V107H240V107H239V107H238V107H237V106H236V106H235V107H234V107H233V106H232V106H231V104H230V104H229V104H228V103H227V103H226V105H225V105H224V105H223V104H222V103H221V100H220V100H219V100H218V101H217V101H216V101H215V101H214V101H213V101H212V101H211V101H210V101H209V101H208V101H207V100H206V100H205V101H204V101H203V101H202V100H201V101H200V102H199V102H198V101H197V101H196V103H195V103H194V103H193V103H192V103H191V104H190V104H189V105H188V106H187V107H186V107H185V108H184V109H183V111H182V111H181V113H180V114H179V116H178V116H177V116H176V117H175V119H174V119H173V119H172V122H171V124H170V125H169V126H168V128H167V128H166V129H165V130H164V131H163V132H162V132H161V133H160V134H159V133H158V134H157V134H156V135H155V133H154V132H153V132H152V131H151V130H150V130H149V131H148V130H147V129H146V129H145V129H144V129H143V129H142V129H141V129H140V129H139V129H138V129H137V129H136V129H135V129H134V129H133V128H132V128H131V128H130V126H129V126H128V126H127V126H126V126H125V125H124V124H123V124H122V124H121V124H120V124H119V124H118V124H117V124H116V124H115V124H114V123H113V123H112V123H111V122H110V122H109V124H108V124H107V123H106V123H105V123H104V123H103V122H102V122H101V122H100V122H99V120H98V120H97V119H96V120H95V120H94V120H93V120H92V119H91V120H90V120H89V119H88V118H87V117H86V116H85V116H84V116H83V115H82V115H81V117H80V117H79V116H78V116H77V115H76V115H75V115H74V114H73V113H72V113H71V115H70V115H69V114H68V114H67V114H66V113H65V111H64V111H63V111H62V110H61V110H60V110H59V110H58V109H57V109H56V109H55V109H54V109H53V108H52V108H51V108H50V107H49V107H48V107H47V106H46V106H45V106H44V106H43V105H42V107H41V107H40V107H39V106H38V105H37V105H36V105H35V103H34V103H33V103H32V103H31V103H30V103H29V103H28V102H27V102H26V102H25V102H24V101H23V101H22V101H21z"/>
<rect x="21" y="109" width="37" height="15" fill="#ffffff"/>
<rect x="21" y="259" width="29" height="16" fill="#ffffff"/>
<rect x="21" y="358" width="31" height="16" fill="#ffffff"/>
<path fill="#262626" d="M21 27h1v1h-1zM21 37h1v1h-1zM21 47h1v1h-1zM21 57h1v1h-1zM21 77h1v1h-1zM21 87h1v1h-1zM21 97h1v1h-1zM21 107h1v1h-1zM21 127h1v1h-1zM21 137h1v1h-1zM21 147h1v1h-1zM21 157h1v1h-1zM21 177h1v1h-1zM21 187h1v1h-1zM21 197h1v1h-1zM21 207h1v1h-1zM21 227h1v1h-1zM21 237h1v1h-1zM21 247h1v1h-1zM21 257h1v1h-1zM21 277h1v1h-1zM21 287h1v1h-1zM21 297h1v1h-1zM21 307h1v1h-1zM21 327h1v1h-1zM21 337h1v1h-1zM21 347h1v1h-1zM21 357h1v1h-1zM21 377h1v1h-1zM21 387h1v1h-1zM21 397h1v1h-1zM21 407h1v1h-1zM22 67h1v1h-1zM22 167h1v1h-1zM22 317h1v1h-1zM23 27h1v1h-1zM23 37h1v1h-1zM23 47h1v1h-1zM23 57h1v1h-1zM23 77h1v1h-1zM23 87h1v1h-1zM23 97h1v1h-1zM23 107h1v1h-1zM23 127h1v1h-1zM23 137h1v1h-1zM23 147h1v1h-1zM23 157h1v1h-1zM23 177h1v1h-1zM23 187h1v1h-1zM23 197h1v1h-1zM23 207h1v1h-1zM23 227h1v1h-1zM23 237h1v1h-1zM23 247h1v1h-1zM23 257h1v1h-1zM23 277h1v1h-1zM23 287h1v1h-1zM23 297h1v1h-1zM23 307h1v1h-1zM23 327h1v1h-1zM23 337h1v1h-1zM23 347h1v1h-1zM23 357h1v1h-1zM23 377h1v1h-1zM23 387h1v1h-1zM23 397h1v1h-1zM23 407h1v1h-1zM24 67h1v1h-1zM24 167h1v1h-1zM24 317h1v1h-1zM26 67h1v1h-1zM26 167h1v1h-1zM26 317h1v1h-1zM36 17h1v1h-1zM36 19h1v1h-1zM36 67h1v1h-1zM36 167h1v1h-1zM36 214h1v1h-1zM36 216h1v1h-1zM36 218h1v1h-1zM36 220h1v1h-1zM36 317h1v1h-1zM36 415h1v1h-1zM36 417h1v1h-1zM51 17h1v1h-1zM51 19h1v1h-1zM51 67h1v1h-1zM51 167h1v1h-1zM51 214h1v1h-1zM51 216h1v1h-1zM51 218h1v1h-1zM51 220h1v1h-1zM51 267h1v1h-1zM51 317h1v1h-1zM51 415h1v1h-1zM51 417h1v1h-1zM66 17h1v1h-1zM66 19h1v1h-1zM66 67h1v1h-1zM66 117h1v1h-1zM66 167h1v1h-1zM66 214h1v1h-1zM66 216h1v1h-1zM66 218h1v1h-1zM66 220h1v1h-1zM66 267h1v1h-1zM66 317h1v1h-1zM66 367h1v1h-1zM66 415h1v1h-1zM66 417h1v1h-1zM81 17h1v1h-1zM81 19h1v1h-1zM81 67h1v1h-1zM81 117h1v1h-1zM81 167h1v1h-1zM81 214h1v1h-1zM81 216h1v1h-1zM81 218h1v1h-1zM81 220h1v1h-1zM81 267h1v1h-1zM81 317h1v1h-1zM81 367h1v1h-1zM81 415h1v1h-1zM81 417h1v1h-1zM96 18h1v1h-1zM96 20h1v1h-1zM96 22h1v1h-1zM96 27h1v1h-1zM96 37h1v1h-1zM96 47h1v1h-1zM96 57h1v1h-1zM96 67h1v1h-1zM96 77h1v1h-1zM96 87h1v1h-1zM96 97h1v1h-1zM96 107h1v1h-1zM96 117h1v1h-1zM96 127h1v1h-1zM96 137h1v1h-1zM96 147h1v1h-1zM96 157h1v1h-1zM96 167h1v1h-1zM96 177h1v1h-1zM96 187h1v1h-1zM96 197h1v1h-1zM96 207h1v1h-1zM96 211h1v1h-1zM96 213h1v1h-1zM96 215h1v1h-1zM96 219h1v1h-1zM96 221h1v1h-1zM96 223h1v1h-1zM96 227h1v1h-1zM96 237h1v1h-1zM96 247h1v1h-1zM96 257h1v1h-1zM96 267h1v1h-1zM96 277h1v1h-1zM96 287h1v1h-1zM96 297h1v1h-1zM96 307h1v1h-1zM96 317h1v1h-1zM96 327h1v1h-1zM96 337h1v1h-1zM96 347h1v1h-1zM96 357h1v1h-1zM96 367h1v1h-1zM96 377h1v1h-1zM96 387h1v1h-1zM96 397h1v1h-1zM96 407h1v1h-1zM96 412h1v1h-1zM96 414h1v1h-1zM96 416h1v1h-1zM111 17h1v1h-1zM111 19h1v1h-1zM111 67h1v1h-1zM111 117h1v1h-1zM111 167h1v1h-1zM111 214h1v1h-1zM111 216h1v1h-1zM111 218h1v1h-1zM111 220h1v1h-1zM111 267h1v1h-1zM111 317h1v1h-1zM111 367h1v1h-1zM111 415h1v1h-1zM111 417h1v1h-1zM126 17h1v1h-1zM126 19h1v1h-1zM126 67h1v1h-1zM126 117h1v1h-1zM126 167h1v1h-1zM126 214h1v1h-1zM126 216h1v1h-1zM126 218h1v1h-1zM126 220h1v1h-1zM126 267h1v1h-1zM126 317h1v1h-1zM126 367h1v1h-1zM126 415h1v1h-1zM126 417h1v1h-1zM141 17h1v1h-1zM141 19h1v1h-1zM141 67h1v1h-1zM141 117h1v1h-1zM141 167h1v1h-1zM141 214h1v1h-1zM141 216h1v1h-1zM141 218h1v1h-1zM141 220h1v1h-1zM141 267h1v1h-1zM141 317h1v1h-1zM141 367h1v1h-1zM141 415h1v1h-1zM141 417h1v1h-1zM156 17h1v1h-1zM156 19h1v1h-1zM156 67h1v1h-1zM156 117h1v1h-1zM156 167h1v1h-1zM156 214h1v1h-1zM156 216h1v1h-1zM156 218h1v1h-1zM156 220h1v1h-1zM156 267h1v1h-1zM156 317h1v1h-1zM156 367h1v1h-1zM156 415h1v1h-1zM156 417h1v1h-1zM171 18h1v1h-1zM171 20h1v1h-1zM171 22h1v1h-1zM171 27h1v1h-1zM171 37h1v1h-1zM171 47h1v1h-1zM171 57h1v1h-1zM171 67h1v1h-1zM171 77h1v1h-1zM171 87h1v1h-1zM171 97h1v1h-1zM171 107h1v1h-1zM171 117h1v1h-1zM171 127h1v1h-1zM171 137h1v1h-1zM171 147h1v1h-1zM171 157h1v1h-1zM171 167h1v1h-1zM171 177h1v1h-1zM171 187h1v1h-1zM171 197h1v1h-1zM171 207h1v1h-1zM171 211h1v1h-1zM171 213h1v1h-1zM171 215h1v1h-1zM171 219h1v1h-1zM171 221h1v1h-1zM171 223h1v1h-1zM171 227h1v1h-1zM171 237h1v1h-1zM171 247h1v1h-1zM171 257h1v1h-1zM171 267h1v1h-1zM171 277h1v1h-1zM171 287h1v1h-1zM171 297h1v1h-1zM171 307h1v1h-1zM171 317h1v1h-1zM171 327h1v1h-1zM171 337h1v1h-1zM171 347h1v1h-1zM171 357h1v1h-1zM171 367h1v1h-1zM171 377h1v1h-1zM171 387h1v1h-1zM171 397h1v1h-1zM171 407h1v1h-1zM171 412h1v1h-1zM171 414h1v1h-1zM171 416h1v1h-1zM186 17h1v1h-1zM186 19h1v1h-1zM186 67h1v1h-1zM186 117h1v1h-1zM186 167h1v1h-1zM186 214h1v1h-1zM186 216h1v1h-1zM186 218h1v1h-1zM186 220h1v1h-1zM186 267h1v1h-1zM186 317h1v1h-1zM186 367h1v1h-1zM186 415h1v1h-1zM186 417h1v1h-1zM201 17h1v1h-1zM201 19h1v1h-1zM201 67h1v1h-1zM201 117h1v1h-1zM201 167h1v1h-1zM201 214h1v1h-1zM201 216h1v1h-1zM201 218h1v1h-1zM201 220h1v1h-1zM201 267h1v1h-1zM201 317h1v1h-1zM201 367h1v1h-1zM201 415h1v1h-1zM201 417h1v1h-1zM216 17h1v1h-1zM216 19h1v1h-1zM216 67h1v1h-1zM216 117h1v1h-1zM216 167h1v1h-1zM216 214h1v1h-1zM216 216h1v1h-1zM216 218h1v1h-1zM216 220h1v1h-1zM216 267h1v1h-1zM216 317h1v1h-1zM216 367h1v1h-1zM216 415h1v1h-1zM216 417h1v1h-1zM231 17h1v1h-1zM231 19h1v1h-1zM231 67h1v1h-1zM231 117h1v1h-1zM231 167h1v1h-1zM231 214h1v1h-1zM231 216h1v1h-1zM231 218h1v1h-1zM231 220h1v1h-1zM231 267h1v1h-1zM231 317h1v1h-1zM231 367h1v1h-1zM231 415h1v1h-1zM231 417h1v1h-1zM246 18h1v1h-1zM246 20h1v1h-1zM246 22h1v1h-1zM246 27h1v1h-1zM246 37h1v1h-1zM246 47h1v1h-1zM246 57h1v1h-1zM246 67h1v1h-1zM246 77h1v1h-1zM246 87h1v1h-1zM246 97h1v1h-1zM246 107h1v1h-1zM246 117h1v1h-1zM246 127h1v1h-1zM246 137h1v1h-1zM246 147h1v1h-1zM246 157h1v1h-1zM246 167h1v1h-1zM246 177h1v1h-1zM246 187h1v1h-1zM246 197h1v1h-1zM246 207h1v1h-1zM246 211h1v1h-1zM246 213h1v1h-1zM246 215h1v1h-1zM246 219h1v1h-1zM246 221h1v1h-1zM246 223h1v1h-1zM246 227h1v1h-1zM246 237h1v1h-1zM246 247h1v1h-1zM246 257h1v1h-1zM246 267h1v1h-1zM246 277h1v1h-1zM246 287h1v1h-1zM246 297h1v1h-1zM246 307h1v1h-1zM246 317h1v1h-1zM246 327h1v1h-1zM246 337h1v1h-1zM246 347h1v1h-1zM246 357h1v1h-1zM246 367h1v1h-1zM246 377h1v1h-1zM246 387h1v1h-1zM246 397h1v1h-1zM246 407h1v1h-1zM246 412h1v1h-1zM246 414h1v1h-1zM246 416h1v1h-1zM261 17h1v1h-1zM261 19h1v1h-1zM261 67h1v1h-1zM261 117h1v1h-1zM261 167h1v1h-1zM261 214h1v1h-1zM261 216h1v1h-1zM261 218h1v1h-1zM261 220h1v1h-1zM261 267h1v1h-1zM261 317h1v1h-1zM261 367h1v1h-1zM261 415h1v1h-1zM261 417h1v1h-1zM276 17h1v1h-1zM276 19h1v1h-1zM276 67h1v1h-1zM276 117h1v1h-1zM276 167h1v1h-1zM276 214h1v1h-1zM276 216h1v1h-1zM276 218h1v1h-1zM276 220h1v1h-1zM276 267h1v1h-1zM276 317h1v1h-1zM276 367h1v1h-1zM276 415h1v1h-1zM276 417h1v1h-1zM291 17h1v1h-1zM291 19h1v1h-1zM291 67h1v1h-1zM291 117h1v1h-1zM291 167h1v1h-1zM291 214h1v1h-1zM291 216h1v1h-1zM291 218h1v1h-1zM291 220h1v1h-1zM291 267h1v1h-1zM291 317h1v1h-1zM291 367h1v1h-1zM291 415h1v1h-1zM291 417h1v1h-1zM306 17h1v1h-1zM306 19h1v1h-1zM306 67h1v1h-1zM306 117h1v1h-1zM306 167h1v1h-1zM306 214h1v1h-1zM306 216h1v1h-1zM306 218h1v1h-1zM306 220h1v1h-1zM306 267h1v1h-1zM306 317h1v1h-1zM306 367h1v1h-1zM306 415h1v1h-1zM306 417h1v1h-1zM321 18h1v1h-1zM321 20h1v1h-1zM321 22h1v1h-1zM321 27h1v1h-1zM321 37h1v1h-1zM321 47h1v1h-1zM321 57h1v1h-1zM321 67h1v1h-1zM321 77h1v1h-1zM321 87h1v1h-1zM321 97h1v1h-1zM321 107h1v1h-1zM321 117h1v1h-1zM321 127h1v1h-1zM321 137h1v1h-1zM321 147h1v1h-1zM321 157h1v1h-1zM321 167h1v1h-1zM321 177h1v1h-1zM321 187h1v1h-1zM321 197h1v1h-1zM321 207h1v1h-1zM321 211h1v1h-1zM321 213h1v1h-1zM321 215h1v1h-1zM321 219h1v1h-1zM321 221h1v1h-1zM321 223h1v1h-1zM321 227h1v1h-1zM321 237h1v1h-1zM321 247h1v1h-1zM321 257h1v1h-1zM321 267h1v1h-1zM321 277h1v1h-1zM321 287h1v1h-1zM321 297h1v1h-1zM321 307h1v1h-1zM321 317h1v1h-1zM321 327h1v1h-1zM321 337h1v1h-1zM321 347h1v1h-1zM321 357h1v1h-1zM321 367h1v1h-1zM321 377h1v1h-1zM321 387h1v1h-1zM321 397h1v1h-1zM321 407h1v1h-1zM321 412h1v1h-1zM321 414h1v1h-1zM321 416h1v1h-1zM336 17h1v1h-1zM336 19h1v1h-1zM336 67h1v1h-1zM336 117h1v1h-1zM336 167h1v1h-1zM336 214h1v1h-1zM336 216h1v1h-1zM336 218h1v1h-1zM336 220h1v1h-1zM336 267h1v1h-1zM336 317h1v1h-1zM336 367h1v1h-1zM336 415h1v1h-1zM336 417h1v1h-1zM351 17h1v1h-1zM351 19h1v1h-1zM351 67h1v1h-1zM351 117h1v1h-1zM351 167h1v1h-1zM351 214h1v1h-1zM351 216h1v1h-1zM351 218h1v1h-1zM351 220h1v1h-1zM351 267h1v1h-1zM351 317h1v1h-1zM351 367h1v1h-1zM351 415h1v1h-1zM351 417h1v1h-1zM366 17h1v1h-1zM366 19h1v1h-1zM366 67h1v1h-1zM366 117h1v1h-1zM366 167h1v1h-1zM366 214h1v1h-1zM366 216h1v1h-1zM366 218h1v1h-1zM366 220h1v1h-1zM366 267h1v1h-1zM366 317h1v1h-1zM366 367h1v1h-1zM366 415h1v1h-1zM366 417h1v1h-1zM381 17h1v1h-1zM381 19h1v1h-1zM381 67h1v1h-1zM381 117h1v1h-1zM381 167h1v1h-1zM381 214h1v1h-1zM381 216h1v1h-1zM381 218h1v1h-1zM381 220h1v1h-1zM381 267h1v1h-1zM381 317h1v1h-1zM381 367h1v1h-1zM381 415h1v1h-1zM381 417h1v1h-1zM390 67h1v1h-1zM390 117h1v1h-1zM390 167h1v1h-1zM390 267h1v1h-1zM390 317h1v1h-1zM390 367h1v1h-1zM392 67h1v1h-1zM392 117h1v1h-1zM392 167h1v1h-1zM392 267h1v1h-1zM392 317h1v1h-1zM392 367h1v1h-1zM393 27h1v1h-1zM393 37h1v1h-1zM393 47h1v1h-1zM393 57h1v1h-1zM393 77h1v1h-1zM393 87h1v1h-1zM393 97h1v1h-1zM393 107h1v1h-1zM393 127h1v1h-1zM393 137h1v1h-1zM393 147h1v1h-1zM393 157h1v1h-1zM393 177h1v1h-1zM393 187h1v1h-1zM393 197h1v1h-1zM393 207h1v1h-1zM393 227h1v1h-1zM393 237h1v1h-1zM393 247h1v1h-1zM393 257h1v1h-1zM393 277h1v1h-1zM393 287h1v1h-1zM393 297h1v1h-1zM393 307h1v1h-1zM393 327h1v1h-1zM393 337h1v1h-1zM393 347h1v1h-1zM393 357h1v1h-1zM393 377h1v1h-1zM393 387h1v1h-1zM393 397h1v1h-1zM393 407h1v1h-1zM394 67h1v1h-1zM394 117h1v1h-1zM394 167h1v1h-1zM394 267h1v1h-1zM394 317h1v1h-1zM394 367h1v1h-1zM395 27h1v1h-1zM395 37h1v1h-1zM395 47h1v1h-1zM395 57h1v1h-1zM395 77h1v1h-1zM395 87h1v1h-1zM395 97h1v1h-1zM395 107h1v1h-1zM395 127h1v1h-1zM395 137h1v1h-1zM395 147h1v1h-1zM395 157h1v1h-1zM395 177h1v1h-1zM395 187h1v1h-1zM395 197h1v1h-1zM395 207h1v1h-1zM395 227h1v1h-1zM395 237h1v1h-1zM395 247h1v1h-1zM395 257h1v1h-1zM395 277h1v1h-1zM395 287h1v1h-1zM395 297h1v1h-1zM395 307h1v1h-1zM395 327h1v1h-1zM395 337h1v1h-1zM395 347h1v1h-1zM395 357h1v1h-1zM395 377h1v1h-1zM395 387h1v1h-1zM395 397h1v1h-1zM395 407h1v1h-1zM397 27h1v1h-1zM397 37h1v1h-1zM397 47h1v1h-1zM397 57h1v1h-1zM397 77h1v1h-1zM397 87h1v1h-1zM397 97h1v1h-1zM397 107h1v1h-1zM397 127h1v1h-1zM397 137h1v1h-1zM397 147h1v1h-1zM397 157h1v1h-1zM397 177h1v1h-1zM397 187h1v1h-1zM397 197h1v1h-1zM397 207h1v1h-1zM397 227h1v1h-1zM397 237h1v1h-1zM397 247h1v1h-1zM397 257h1v1h-1zM397 277h1v1h-1zM397 287h1v1h-1zM397 297h1v1h-1zM397 307h1v1h-1zM397 327h1v1h-1zM397 337h1v1h-1zM397 347h1v1h-1zM397 357h1v1h-1zM397 377h1v1h-1zM397 387h1v1h-1zM397 397h1v1h-1zM397 407h1v1h-1zM398 67h1v1h-1zM398 117h1v1h-1zM398 167h1v1h-1zM398 267h1v1h-1zM398 317h1v1h-1zM398 367h1v1h-1zM399 27h1v1h-1zM399 37h1v1h-1zM399 47h1v1h-1zM399 57h1v1h-1zM399 77h1v1h-1zM399 87h1v1h-1zM399 97h1v1h-1zM399 107h1v1h-1zM399 127h1v1h-1zM399 137h1v1h-1zM399 147h1v1h-1zM399 157h1v1h-1zM399 177h1v1h-1zM399 187h1v1h-1zM399 197h1v1h-1zM399 207h1v1h-1zM399 227h1v1h-1zM399 237h1v1h-1zM399 247h1v1h-1zM399 257h1v1h-1zM399 277h1v1h-1zM399 287h1v1h-1zM399 297h1v1h-1zM399 307h1v1h-1zM399 327h1v1h-1zM399 337h1v1h-1zM399 347h1v1h-1zM399 357h1v1h-1zM399 377h1v1h-1zM399 387h1v1h-1zM399 397h1v1h-1zM399 407h1v1h-1zM400 67h1v1h-1zM400 117h1v1h-1zM400 167h1v1h-1zM400 267h1v1h-1zM400 317h1v1h-1zM400 367h1v1h-1zM402 67h1v1h-1zM402 117h1v1h-1zM402 167h1v1h-1zM402 267h1v1h-1zM402 317h1v1h-1zM402 367h1v1h-1zM411 17h1v1h-1zM411 19h1v1h-1zM411 67h1v1h-1zM411 117h1v1h-1zM411 167h1v1h-1zM411 214h1v1h-1zM411 216h1v1h-1zM411 218h1v1h-1zM411 220h1v1h-1zM411 267h1v1h-1zM411 317h1v1h-1zM411 367h1v1h-1zM411 415h1v1h-1zM411 417h1v1h-1zM426 17h1v1h-1zM426 19h1v1h-1zM426 67h1v1h-1zM426 117h1v1h-1zM426 167h1v1h-1zM426 214h1v1h-1zM426 216h1v1h-1zM426 218h1v1h-1zM426 220h1v1h-1zM426 267h1v1h-1zM426 317h1v1h-1zM426 367h1v1h-1zM426 415h1v1h-1zM426 417h1v1h-1zM441 17h1v1h-1zM441 19h1v1h-1zM441 67h1v1h-1zM441 117h1v1h-1zM441 167h1v1h-1zM441 214h1v1h-1zM441 216h1v1h-1zM441 218h1v1h-1zM441 220h1v1h-1zM441 267h1v1h-1zM441 317h1v1h-1zM441 367h1v1h-1zM441 415h1v1h-1zM441 417h1v1h-1zM456 17h1v1h-1zM456 19h1v1h-1zM456 67h1v1h-1zM456 117h1v1h-1zM456 167h1v1h-1zM456 214h1v1h-1zM456 216h1v1h-1zM456 218h1v1h-1zM456 220h1v1h-1zM456 267h1v1h-1zM456 317h1v1h-1zM456 367h1v1h-1zM456 415h1v1h-1zM456 417h1v1h-1zM471 18h1v1h-1zM471 20h1v1h-1zM471 22h1v1h-1zM471 27h1v1h-1zM471 37h1v1h-1zM471 47h1v1h-1zM471 57h1v1h-1zM471 67h1v1h-1zM471 77h1v1h-1zM471 87h1v1h-1zM471 97h1v1h-1zM471 107h1v1h-1zM471 117h1v1h-1zM471 127h1v1h-1zM471 137h1v1h-1zM471 147h1v1h-1zM471 157h1v1h-1zM471 167h1v1h-1zM471 177h1v1h-1zM471 187h1v1h-1zM471 197h1v1h-1zM471 207h1v1h-1zM471 211h1v1h-1zM471 213h1v1h-1zM471 215h1v1h-1zM471 219h1v1h-1zM471 221h1v1h-1zM471 223h1v1h-1zM471 227h1v1h-1zM471 237h1v1h-1zM471 247h1v1h-1zM471 257h1v1h-1zM471 267h1v1h-1zM471 277h1v1h-1zM471 287h1v1h-1zM471 297h1v1h-1zM471 307h1v1h-1zM471 317h1v1h-1zM471 327h1v1h-1zM471 337h1v1h-1zM471 347h1v1h-1zM471 357h1v1h-1zM471 367h1v1h-1zM471 377h1v1h-1zM471 387h1v1h-1zM471 397h1v1h-1zM471 407h1v1h-1zM471 412h1v1h-1zM471 414h1v1h-1zM471 416h1v1h-1zM486 17h1v1h-1zM486 19h1v1h-1zM486 67h1v1h-1zM486 117h1v1h-1zM486 167h1v1h-1zM486 214h1v1h-1zM486 216h1v1h-1zM486 218h1v1h-1zM486 220h1v1h-1zM486 267h1v1h-1zM486 317h1v1h-1zM486 367h1v1h-1zM486 415h1v1h-1zM486 417h1v1h-1zM501 17h1v1h-1zM501 19h1v1h-1zM501 67h1v1h-1zM501 117h1v1h-1zM501 167h1v1h-1zM501 214h1v1h-1zM501 216h1v1h-1zM501 218h1v1h-1zM501 220h1v1h-1zM501 267h1v1h-1zM501 317h1v1h-1zM501 367h1v1h-1zM501 415h1v1h-1zM501 417h1v1h-1zM516 17h1v1h-1zM516 19h1v1h-1zM516 67h1v1h-1zM516 117h1v1h-1zM516 167h1v1h-1zM516 214h1v1h-1zM516 216h1v1h-1zM516 218h1v1h-1zM516 220h1v1h-1zM516 267h1v1h-1zM516 317h1v1h-1zM516 367h1v1h-1zM516 415h1v1h-1zM516 417h1v1h-1zM531 17h1v1h-1zM531 19h1v1h-1zM531 67h1v1h-1zM531 117h1v1h-1zM531 167h1v1h-1zM531 214h1v1h-1zM531 216h1v1h-1zM531 218h1v1h-1zM531 220h1v1h-1zM531 267h1v1h-1zM531 317h1v1h-1zM531 367h1v1h-1zM531 415h1v1h-1zM531 417h1v1h-1zM546 18h1v1h-1zM546 20h1v1h-1zM546 22h1v1h-1zM546 27h1v1h-1zM546 37h1v1h-1zM546 47h1v1h-1zM546 57h1v1h-1zM546 67h1v1h-1zM546 77h1v1h-1zM546 87h1v1h-1zM546 97h1v1h-1zM546 107h1v1h-1zM546 117h1v1h-1zM546 127h1v1h-1zM546 137h1v1h-1zM546 147h1v1h-1zM546 157h1v1h-1zM546 167h1v1h-1zM546 177h1v1h-1zM546 187h1v1h-1zM546 197h1v1h-1zM546 207h1v1h-1zM546 211h1v1h-1zM546 213h1v1h-1zM546 215h1v1h-1zM546 219h1v1h-1zM546 221h1v1h-1zM546 223h1v1h-1zM546 227h1v1h-1zM546 237h1v1h-1zM546 247h1v1h-1zM546 257h1v1h-1zM546 267h1v1h-1zM546 277h1v1h-1zM546 287h1v1h-1zM546 297h1v1h-1zM546 307h1v1h-1zM546 317h1v1h-1zM546 327h1v1h-1zM546 337h1v1h-1zM546 347h1v1h-1zM546 357h1v1h-1zM546 367h1v1h-1zM546 377h1v1h-1zM546 387h1v1h-1zM546 397h1v1h-1zM546 407h1v1h-1zM546 412h1v1h-1zM546 414h1v1h-1zM546 416h1v1h-1zM561 17h1v1h-1zM561 19h1v1h-1zM561 67h1v1h-1zM561 117h1v1h-1zM561 167h1v1h-1zM561 214h1v1h-1zM561 216h1v1h-1zM561 218h1v1h-1zM561 220h1v1h-1zM561 267h1v1h-1zM561 317h1v1h-1zM561 367h1v1h-1zM561 415h1v1h-1zM561 417h1v1h-1zM576 17h1v1h-1zM576 19h1v1h-1zM576 67h1v1h-1zM576 117h1v1h-1zM576 167h1v1h-1zM576 214h1v1h-1zM576 216h1v1h-1zM576 218h1v1h-1zM576 220h1v1h-1zM576 267h1v1h-1zM576 317h1v1h-1zM576 367h1v1h-1zM576 415h1v1h-1zM576 417h1v1h-1zM591 17h1v1h-1zM591 19h1v1h-1zM591 67h1v1h-1zM591 117h1v1h-1zM591 167h1v1h-1zM591 214h1v1h-1zM591 216h1v1h-1zM591 218h1v1h-1zM591 220h1v1h-1zM591 267h1v1h-1zM591 317h1v1h-1zM591 367h1v1h-1zM591 415h1v1h-1zM591 417h1v1h-1zM606 17h1v1h-1zM606 19h1v1h-1zM606 67h1v1h-1zM606 117h1v1h-1zM606 167h1v1h-1zM606 214h1v1h-1zM606 216h1v1h-1zM606 218h1v1h-1zM606 220h1v1h-1zM606 267h1v1h-1zM606 317h1v1h-1zM606 367h1v1h-1zM606 415h1v1h-1zM606 417h1v1h-1zM621 18h1v1h-1zM621 20h1v1h-1zM621 22h1v1h-1zM621 27h1v1h-1zM621 37h1v1h-1zM621 47h1v1h-1zM621 57h1v1h-1zM621 67h1v1h-1zM621 77h1v1h-1zM621 87h1v1h-1zM621 97h1v1h-1zM621 107h1v1h-1zM621 117h1v1h-1zM621 127h1v1h-1zM621 137h1v1h-1zM621 147h1v1h-1zM621 157h1v1h-1zM621 167h1v1h-1zM621 177h1v1h-1zM621 187h1v1h-1zM621 197h1v1h-1zM621 207h1v1h-1zM621 211h1v1h-1zM621 213h1v1h-1zM621 215h1v1h-1zM621 219h1v1h-1zM621 221h1v1h-1zM621 223h1v1h-1zM621 227h1v1h-1zM621 237h1v1h-1zM621 247h1v1h-1zM621 257h1v1h-1zM621 267h1v1h-1zM621 277h1v1h-1zM621 287h1v1h-1zM621 297h1v1h-1zM621 307h1v1h-1zM621 317h1v1h-1zM621 327h1v1h-1zM621 337h1v1h-1zM621 347h1v1h-1zM621 357h1v1h-1zM621 367h1v1h-1zM621 377h1v1h-1zM621 387h1v1h-1zM621 397h1v1h-1zM621 407h1v1h-1zM621 412h1v1h-1zM621 414h1v1h-1zM621 416h1v1h-1zM636 17h1v1h-1zM636 19h1v1h-1zM636 67h1v1h-1zM636 117h1v1h-1zM636 167h1v1h-1zM636 214h1v1h-1zM636 216h1v1h-1zM636 218h1v1h-1zM636 220h1v1h-1zM636 267h1v1h-1zM636 317h1v1h-1zM636 367h1v1h-1zM636 415h1v1h-1zM636 417h1v1h-1zM651 17h1v1h-1zM651 19h1v1h-1zM651 67h1v1h-1zM651 117h1v1h-1zM651 167h1v1h-1zM651 214h1v1h-1zM651 216h1v1h-1zM651 218h1v1h-1zM651 220h1v1h-1zM651 267h1v1h-1zM651 317h1v1h-1zM651 367h1v1h-1zM651 415h1v1h-1zM651 417h1v1h-1zM666 17h1v1h-1zM666 19h1v1h-1zM666 67h1v1h-1zM666 117h1v1h-1zM666 167h1v1h-1zM666 214h1v1h-1zM666 216h1v1h-1zM666 218h1v1h-1zM666 220h1v1h-1zM666 267h1v1h-1zM666 317h1v1h-1zM666 367h1v1h-1zM666 415h1v1h-1zM666 417h1v1h-1zM681 17h1v1h-1zM681 19h1v1h-1zM681 67h1v1h-1zM681 117h1v1h-1zM681 167h1v1h-1zM681 214h1v1h-1zM681 216h1v1h-1zM681 218h1v1h-1zM681 220h1v1h-1zM681 267h1v1h-1zM681 317h1v1h-1zM681 367h1v1h-1zM681 415h1v1h-1zM681 417h1v1h-1zM696 18h1v1h-1zM696 20h1v1h-1zM696 22h1v1h-1zM696 27h1v1h-1zM696 37h1v1h-1zM696 47h1v1h-1zM696 57h1v1h-1zM696 67h1v1h-1zM696 77h1v1h-1zM696 87h1v1h-1zM696 97h1v1h-1zM696 107h1v1h-1zM696 117h1v1h-1zM696 127h1v1h-1zM696 137h1v1h-1zM696 147h1v1h-1zM696 157h1v1h-1zM696 167h1v1h-1zM696 177h1v1h-1zM696 187h1v1h-1zM696 197h1v1h-1zM696 207h1v1h-1zM696 211h1v1h-1zM696 213h1v1h-1zM696 215h1v1h-1zM696 219h1v1h-1zM696 221h1v1h-1zM696 223h1v1h-1zM696 227h1v1h-1zM696 237h1v1h-1zM696 247h1v1h-1zM696 257h1v1h-1zM696 267h1v1h-1zM696 277h1v1h-1zM696 287h1v1h-1zM696 297h1v1h-1zM696 307h1v1h-1zM696 317h1v1h-1zM696 327h1v1h-1zM696 337h1v1h-1zM696 347h1v1h-1zM696 357h1v1h-1zM696 367h1v1h-1zM696 377h1v1h-1zM696 387h1v1h-1zM696 397h1v1h-1zM696 407h1v1h-1zM696 412h1v1h-1zM696 414h1v1h-1zM696 416h1v1h-1zM711 17h1v1h-1zM711 19h1v1h-1zM711 67h1v1h-1zM711 117h1v1h-1zM711 167h1v1h-1zM711 214h1v1h-1zM711 216h1v1h-1zM711 218h1v1h-1zM711 220h1v1h-1zM711 267h1v1h-1zM711 317h1v1h-1zM711 367h1v1h-1zM711 415h1v1h-1zM711 417h1v1h-1zM726 17h1v1h-1zM726 19h1v1h-1zM726 67h1v1h-1zM726 117h1v1h-1zM726 167h1v1h-1zM726 214h1v1h-1zM726 216h1v1h-1zM726 218h1v1h-1zM726 220h1v1h-1zM726 267h1v1h-1zM726 317h1v1h-1zM726 367h1v1h-1zM726 415h1v1h-1zM726 417h1v1h-1zM741 17h1v1h-1zM741 19h1v1h-1zM741 67h1v1h-1zM741 117h1v1h-1zM741 167h1v1h-1zM741 214h1v1h-1zM741 216h1v1h-1zM741 218h1v1h-1zM741 220h1v1h-1zM741 267h1v1h-1zM741 317h1v1h-1zM741 367h1v1h-1zM741 415h1v1h-1zM741 417h1v1h-1zM756 17h1v1h-1zM756 19h1v1h-1zM756 67h1v1h-1zM756 117h1v1h-1zM756 167h1v1h-1zM756 214h1v1h-1zM756 216h1v1h-1zM756 218h1v1h-1zM756 220h1v1h-1zM756 267h1v1h-1zM756 317h1v1h-1zM756 367h1v1h-1zM756 415h1v1h-1zM756 417h1v1h-1zM765 67h1v1h-1zM765 117h1v1h-1zM765 167h1v1h-1zM765 267h1v1h-1zM765 317h1v1h-1zM765 367h1v1h-1zM767 67h1v1h-1zM767 117h1v1h-1zM767 167h1v1h-1zM767 267h1v1h-1zM767 317h1v1h-1zM767 367h1v1h-1zM768 27h1v1h-1zM768 37h1v1h-1zM768 47h1v1h-1zM768 57h1v1h-1zM768 77h1v1h-1zM768 87h1v1h-1zM768 97h1v1h-1zM768 107h1v1h-1zM768 127h1v1h-1zM768 137h1v1h-1zM768 147h1v1h-1zM768 157h1v1h-1zM768 177h1v1h-1zM768 187h1v1h-1zM768 197h1v1h-1zM768 207h1v1h-1zM768 227h1v1h-1zM768 237h1v1h-1zM768 247h1v1h-1zM768 257h1v1h-1zM768 277h1v1h-1zM768 287h1v1h-1zM768 297h1v1h-1zM768 307h1v1h-1zM768 327h1v1h-1zM768 337h1v1h-1zM768 347h1v1h-1zM768 357h1v1h-1zM768 377h1v1h-1zM768 387h1v1h-1zM768 397h1v1h-1zM768 407h1v1h-1zM769 67h1v1h-1zM769 117h1v1h-1zM769 167h1v1h-1zM769 267h1v1h-1zM769 317h1v1h-1zM769 367h1v1h-1zM770 27h1v1h-1zM770 37h1v1h-1zM770 47h1v1h-1zM770 57h1v1h-1zM770 77h1v1h-1zM770 87h1v1h-1zM770 97h1v1h-1zM770 107h1v1h-1zM770 127h1v1h-1zM770 137h1v1h-1zM770 147h1v1h-1zM770 157h1v1h-1zM770 177h1v1h-1zM770 187h1v1h-1zM770 197h1v1h-1zM770 207h1v1h-1zM770 227h1v1h-1zM770 237h1v1h-1zM770 247h1v1h-1zM770 257h1v1h-1zM770 277h1v1h-1zM770 287h1v1h-1zM770 297h1v1h-1zM770 307h1v1h-1zM770 327h1v1h-1zM770 337h1v1h-1zM770 347h1v1h-1zM770 357h1v1h-1zM770 377h1v1h-1zM770 387h1v1h-1zM770 397h1v1h-1zM770 407h1v1h-1z"/>
<rect x="21" y="217" width="750" height="1" fill="#101010"/>
<rect x="396" y="17" width="1" height="401" fill="#101010"/>
<path fill="#0d1414" d="M20 16H772V17H20Z M20 16H21V419H20Z M771 16H772V419H771Z M20 417H772V419H20Z"/>
<rect x="20" y="419" width="752" height="1" fill="#a4a4a4"/>
<text x="23.86" y="122" font-size="17.2" textLength="32.24" lengthAdjust="spacingAndGlyphs" fill="#262626" stroke="#ffffff" stroke-width="0.28">VOUT</text>
<text x="23.32" y="272.9" font-size="17.2" textLength="21.74" lengthAdjust="spacingAndGlyphs" fill="#262626" stroke="#ffffff" stroke-width="0.28">SW</text>
<text x="23.17" y="371.9" font-size="17" textLength="26.88" lengthAdjust="spacingAndGlyphs" fill="#262626" stroke="#ffffff" stroke-width="0.28">ICOIL</text>
<path d="M157.6 17H169.1L163.4 23Z" fill="#ff9900"/>
<path d="M157.0 24.6Q157.0 23.7 157.9 23.7H168.2Q169.1 23.7 169.1 24.6V35.6L163.1 39.1L157.0 35.6Z" fill="#ff9900"/>
<path d="M158.2 25H168V27H164.1V35.9H162.1V27H158.2Z" fill="#ffffff"/>
<path d="M760 224.5L766.2 219V230Z" fill="#a000a0"/>
<rect x="766" y="224" width="5" height="1" fill="#a000a0"/>
<path d="M1 110.3H13.1L19.7 117.4V117.9L13.1 125.3H1Z" fill="#ffffff"/>
<rect x="1.6" y="109.3" width="11.6" height="1" fill="#ddd0a8"/>
<rect x="1.6" y="110.2" width="11.6" height="0.7" fill="#b8b8b0"/>
<rect x="0" y="110.6" width="1.2" height="14.4" fill="#1818ff"/>
<rect x="1.2" y="110.6" width="0.8" height="14.4" fill="#101010"/>
<rect x="1.8" y="124.7" width="11.2" height="1.1" fill="#1818ff"/>
<path d="M13.2 110.6L16.2 113.7" stroke="#e8c890" stroke-width="0.9"/>
<path d="M16.2 113.7L19.8 117.6" stroke="#2020c0" stroke-width="0.9"/>
<path d="M19.8 117.9L15.8 122.3" stroke="#e0cc98" stroke-width="0.9"/>
<path d="M15.8 122.3L13 125.4" stroke="#2020ff" stroke-width="0.9"/>
<text x="3.7" y="122.8" font-size="16.2" textLength="6.3" lengthAdjust="spacingAndGlyphs" fill="#1414ff" stroke="#1414ff" stroke-width="0.35">1</text>
<path d="M0 260.8H12.6L19.2 267.6L12.6 275.6H0Z" fill="#a000a8"/>
<text x="3.8" y="274.2" font-size="16.6" textLength="7" lengthAdjust="spacingAndGlyphs" fill="#ffffff" stroke="#ffffff" stroke-width="0.5">3</text>
<path d="M0.6 359.9H13.2L19.9 367.6L13.2 375.4H0.6Z" fill="#ffffff" stroke="#40e4ea" stroke-width="0.9"/>
<path d="M1.7 374.2V361.1H13.3" fill="none" stroke="#151515" stroke-width="0.7"/>
<path d="M13.4 361.1L18.6 367.2" fill="none" stroke="#2a7070" stroke-width="0.6"/>
<text x="3.8" y="372.9" font-size="16.6" textLength="7.1" lengthAdjust="spacingAndGlyphs" fill="#00d8e0" stroke="#00d8e0" stroke-width="0.5">2</text>
<rect x="20.5" y="420.5" width="320.5" height="37.6" rx="5.5" fill="#ffffff" stroke="#303030" stroke-width="1"/>
<rect x="344.5" y="420.5" width="339.3" height="37.6" rx="5.5" fill="#ffffff" stroke="#303030" stroke-width="1"/>
<rect x="686.5" y="420.5" width="111" height="37.6" rx="5.5" fill="#ffffff" stroke="#303030" stroke-width="1"/>
<rect x="26" y="423" width="25.1" height="16" rx="8" fill="#1414ff"/>
<rect x="26" y="441" width="25.1" height="16.3" rx="8" fill="#a000a8"/>
<rect x="185.6" y="423" width="25.6" height="15.8" rx="7.9" fill="#00e0e6"/>
<rect x="594.1" y="423" width="24.9" height="16.2" rx="8" fill="#a000a8"/>
<text x="35.2" y="435.7" font-size="16.6" textLength="6.6" lengthAdjust="spacingAndGlyphs" fill="#000000" stroke="#000000" stroke-width="0.35">1</text>
<text x="35.2" y="453.9" font-size="16.6" textLength="7.2" lengthAdjust="spacingAndGlyphs" fill="#000000" stroke="#000000" stroke-width="0.35">3</text>
<text x="195" y="435.9" font-size="16.6" textLength="7.2" lengthAdjust="spacingAndGlyphs" fill="#000000" stroke="#000000" stroke-width="0.45">2</text>
<text x="602.9" y="435.7" font-size="16.6" textLength="7.2" lengthAdjust="spacingAndGlyphs" fill="#000000" stroke="#000000" stroke-width="0.45">3</text>
<text x="66.88" y="436" font-size="16" textLength="49.48" lengthAdjust="spacingAndGlyphs" fill="#2020ff" stroke="#ffffff" stroke-width="0.28">20.0mV</text>
<text x="67.09" y="454" font-size="16" textLength="42.87" lengthAdjust="spacingAndGlyphs" fill="#b000b0" stroke="#ffffff" stroke-width="0.28">5.00 V</text>
<text x="227.68" y="436" font-size="16" textLength="44.46" lengthAdjust="spacingAndGlyphs" fill="#00d4e0" stroke="#ffffff" stroke-width="0.28">1.00 A</text>
<path d="M131.2 432.6C131.4 429.5 132.4 425.2 133.4 425.2C134.6 425.2 137.2 435.8 138.4 435.8C139.5 435.8 140.3 432.6 140.6 430.2" fill="none" stroke="#2020ff" stroke-width="1.05"/>
<text x="143.6 150.2" y="432.1 436.1" font-size="10" transform="translate(143.6 0) scale(0.68 1) translate(-143.6 0)" fill="#1a1aff" stroke="#1a1aff" stroke-width="0.25">BW</text>
<text x="349.66" y="436" font-size="16" textLength="45.86" lengthAdjust="spacingAndGlyphs" fill="#101010" stroke="#ffffff" stroke-width="0.28">1.00µs</text>
<rect x="349.2" y="442.0" width="12" height="12.9" rx="1.6" fill="#ff9900"/>
<path d="M350.6 443.6H359.8V445.6H356.2V453.2H354.2V445.6H350.6Z" fill="#ffffff"/>
<text x="366.69" y="454" font-size="16" textLength="53.68" lengthAdjust="spacingAndGlyphs" fill="#ff9900" stroke="#ffffff" stroke-width="0.28">18.90 %</text>
<text x="486.94" y="436" font-size="16" textLength="59.62" lengthAdjust="spacingAndGlyphs" fill="#101010" stroke="#ffffff" stroke-width="0.28">2.50GS/s</text>
<text x="487.16" y="454" font-size="16" textLength="62.34" lengthAdjust="spacingAndGlyphs" fill="#101010" stroke="#ffffff" stroke-width="0.28">5M points</text>
<path d="M634.2 435.4H637.2L641.9 424.9H644.8" fill="none" stroke="#101010" stroke-width="0.9"/>
<text x="608.41" y="454" font-size="16" textLength="42.93" lengthAdjust="spacingAndGlyphs" fill="#101010" stroke="#ffffff" stroke-width="0.28">4.40 V</text>
<text x="694.65" y="436" font-size="16" textLength="40.29" lengthAdjust="spacingAndGlyphs" fill="#101010" stroke="#ffffff" stroke-width="0.28">17 Oct</text>
<text x="761.3" y="436" font-size="16" textLength="31.14" lengthAdjust="spacingAndGlyphs" fill="#101010" stroke="#ffffff" stroke-width="0.28">2017</text>
<text x="694.57" y="454" font-size="16" textLength="66.49" lengthAdjust="spacingAndGlyphs" fill="#101010" stroke="#ffffff" stroke-width="0.28">10: 55: 04</text>
</svg>
</body></html>
